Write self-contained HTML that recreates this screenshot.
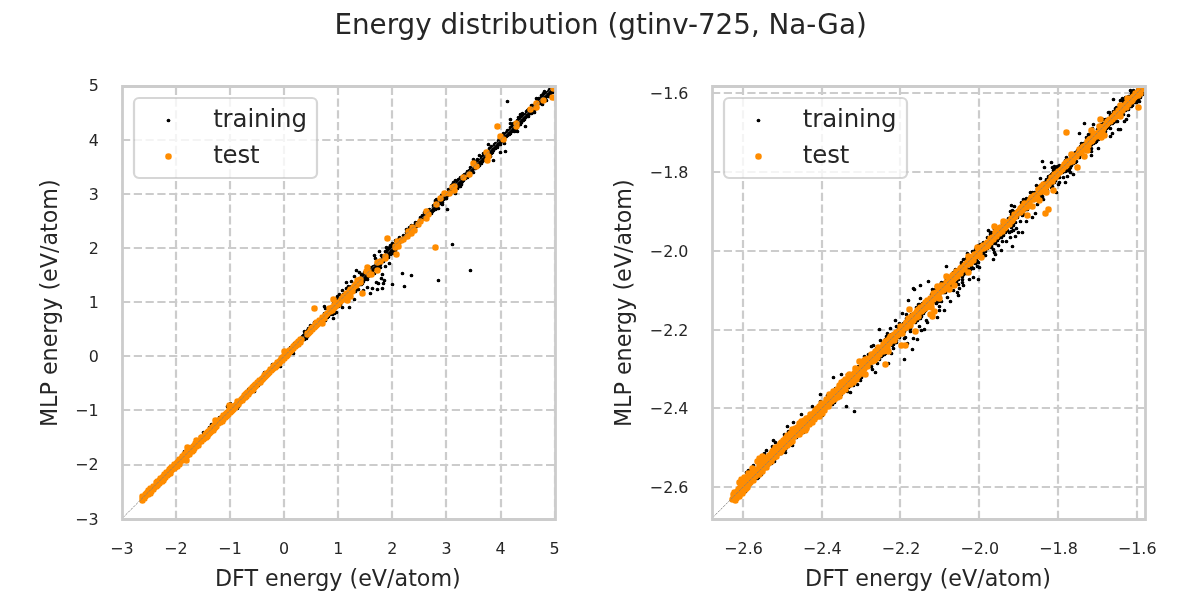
<!DOCTYPE html>
<html lang="en">
<head>
<meta charset="utf-8">
<title>Energy distribution (gtinv-725, Na-Ga)</title>
<style>
html,body{margin:0;padding:0;background:#fff;overflow:hidden}
svg{display:block}
text{font-family:"DejaVu Sans","Liberation Sans",sans-serif;fill:#262626}
</style>
</head>
<body>
<svg width="1200" height="600" viewBox="0 0 1200 600" role="img" aria-label="Energy distribution scatter plots">
<rect width="1200" height="600" fill="#fff"/>
<defs>
<clipPath id="c0"><rect x="121.802" y="85.6" width="433.07" height="433.07"/></clipPath>
<clipPath id="c1"><rect x="711.5" y="85.6" width="433.07" height="433.07"/></clipPath>
</defs>
<g clip-path="url(#c0)">
<g fill="none" stroke="#ccc" stroke-width="2.222" stroke-dasharray="8.222 3.556">
<path d="M122 519V86M176 519V86M230 519V86M284 519V86M338 519V86M392 519V86M446 519V86M501 519V86M555 519V86M122 519H555M122 465H555M122 410H555M122 356H555M122 302H555M122 248H555M122 194H555M122 140H555M122 86H555"/>
</g>
<path d="M196.5 446.5h0M176.5 465.5h0M195.5 445.5h0M227.5 413.5h0M159.5 481.5h0M172.5 469.5h0M192.5 449.5h0M189.5 451.5h0M207.5 434.5h0M180.5 460.5h0M147.5 493.5h0M157.5 483.5h0M209.5 432.5h0M202.5 439.5h0M204.5 437.5h0M151.5 489.5h0M146.5 494.5h0M224.5 416.5h0M179.5 460.5h0M145.5 496.5h0M161.5 479.5h0M185.5 456.5h0M170.5 470.5h0M151.5 490.5h0M215.5 427.5h0M153.5 487.5h0M160.5 481.5h0M220.5 419.5h0M207.5 433.5h0M210.5 430.5h0M149.5 491.5h0M154.5 487.5h0M156.5 483.5h0M169.5 471.5h0M156.5 486.5h0M173.5 467.5h0M152.5 489.5h0M156.5 485.5h0M162.5 478.5h0M183.5 458.5h0M203.5 437.5h0M203.5 436.5h0M217.5 423.5h0M178.5 463.5h0M221.5 419.5h0M148.5 492.5h0M213.5 428.5h0M210.5 431.5h0M205.5 436.5h0M209.5 430.5h0M215.5 426.5h0M198.5 442.5h0M181.5 459.5h0M213.5 427.5h0M181.5 458.5h0M173.5 468.5h0M177.5 463.5h0M190.5 450.5h0M229.5 412.5h0M146.5 493.5h0M161.5 480.5h0M188.5 452.5h0M162.5 479.5h0M167.5 473.5h0M206.5 435.5h0M179.5 461.5h0M144.5 496.5h0M171.5 470.5h0M184.5 457.5h0M228.5 412.5h0M165.5 475.5h0M186.5 454.5h0M175.5 466.5h0M185.5 455.5h0M174.5 465.5h0M150.5 490.5h0M144.5 497.5h0M145.5 495.5h0M194.5 446.5h0M227.5 414.5h0M217.5 424.5h0M218.5 422.5h0M191.5 450.5h0M214.5 426.5h0M223.5 416.5h0M191.5 448.5h0M169.5 470.5h0M176.5 464.5h0M143.5 497.5h0M194.5 447.5h0M230.5 410.5h0M208.5 432.5h0M147.5 494.5h0M212.5 429.5h0M164.5 476.5h0M149.5 492.5h0M181.5 460.5h0M166.5 475.5h0M150.5 491.5h0M183.5 457.5h0M182.5 459.5h0M177.5 464.5h0M187.5 453.5h0M215.5 425.5h0M166.5 474.5h0M219.5 422.5h0M147.5 492.5h0M208.5 433.5h0M187.5 454.5h0M206.5 434.5h0M167.5 475.5h0M209.5 431.5h0M212.5 428.5h0M170.5 471.5h0M221.5 418.5h0M192.5 448.5h0M163.5 478.5h0M226.5 414.5h0M157.5 482.5h0M174.5 467.5h0M224.5 417.5h0M196.5 444.5h0M197.5 444.5h0M214.5 427.5h0M199.5 441.5h0M168.5 473.5h0M161.5 478.5h0M216.5 424.5h0M205.5 435.5h0M215.5 424.5h0M254.5 387.5h0M291.5 350.5h0M248.5 394.5h0M274.5 365.5h0M278.5 362.5h0M282.5 358.5h0M234.5 407.5h0M239.5 401.5h0M258.5 381.5h0M252.5 389.5h0M299.5 341.5h0M259.5 380.5h0M285.5 355.5h0M273.5 366.5h0M275.5 364.5h0M238.5 401.5h0M253.5 390.5h0M248.5 389.5h0M283.5 358.5h0M235.5 406.5h0M279.5 361.5h0M263.5 380.5h0M249.5 393.5h0M266.5 375.5h0M283.5 357.5h0M280.5 363.5h0M297.5 343.5h0M278.5 360.5h0M296.5 343.5h0M231.5 410.5h0M256.5 383.5h0M249.5 389.5h0M247.5 394.5h0M251.5 390.5h0M260.5 381.5h0M262.5 378.5h0M272.5 369.5h0M258.5 383.5h0M236.5 403.5h0M253.5 387.5h0M277.5 363.5h0M267.5 374.5h0M281.5 357.5h0M300.5 343.5h0M260.5 382.5h0M238.5 404.5h0M257.5 384.5h0M270.5 371.5h0M257.5 383.5h0M239.5 400.5h0M231.5 412.5h0M248.5 391.5h0M294.5 343.5h0M233.5 407.5h0M246.5 394.5h0M243.5 396.5h0M234.5 405.5h0M249.5 392.5h0M256.5 384.5h0M237.5 404.5h0M267.5 373.5h0M295.5 343.5h0M266.5 374.5h0M291.5 349.5h0M233.5 406.5h0M288.5 354.5h0M251.5 391.5h0M244.5 399.5h0M258.5 385.5h0M274.5 366.5h0M234.5 406.5h0M268.5 372.5h0M279.5 362.5h0M267.5 375.5h0M264.5 375.5h0M243.5 399.5h0M236.5 404.5h0M288.5 353.5h0M276.5 364.5h0M235.5 405.5h0M273.5 367.5h0M249.5 391.5h0M261.5 380.5h0M258.5 380.5h0M246.5 395.5h0M284.5 356.5h0M241.5 401.5h0M240.5 399.5h0M252.5 388.5h0M297.5 344.5h0M292.5 348.5h0M251.5 388.5h0M261.5 377.5h0M252.5 390.5h0M245.5 396.5h0M244.5 396.5h0M264.5 378.5h0M248.5 393.5h0M265.5 376.5h0M268.5 373.5h0M263.5 378.5h0M240.5 400.5h0M296.5 344.5h0M259.5 382.5h0M254.5 385.5h0M247.5 393.5h0M238.5 406.5h0M269.5 372.5h0M288.5 352.5h0M293.5 347.5h0M289.5 352.5h0M270.5 369.5h0M275.5 365.5h0M296.5 346.5h0M234.5 408.5h0M264.5 376.5h0M275.5 366.5h0M245.5 394.5h0M246.5 393.5h0M242.5 400.5h0M278.5 364.5h0M255.5 384.5h0M271.5 369.5h0M298.5 342.5h0M255.5 386.5h0M295.5 347.5h0M250.5 393.5h0M280.5 360.5h0M243.5 398.5h0M272.5 367.5h0M293.5 346.5h0M231.5 409.5h0M255.5 387.5h0M262.5 377.5h0M256.5 382.5h0M290.5 351.5h0M288.5 351.5h0M278.5 361.5h0M271.5 368.5h0M266.5 373.5h0M244.5 395.5h0M239.5 404.5h0M243.5 397.5h0M260.5 383.5h0M241.5 399.5h0M294.5 346.5h0M289.5 351.5h0M272.5 368.5h0M273.5 369.5h0M279.5 363.5h0M299.5 342.5h0M234.5 409.5h0M276.5 366.5h0M251.5 389.5h0M274.5 367.5h0M258.5 384.5h0M360.5 283.5h0M395.5 250.5h0M370.5 271.5h0M305.5 335.5h0M314.5 325.5h0M353.5 286.5h0M392.5 247.5h0M316.5 323.5h0M341.5 300.5h0M398.5 244.5h0M318.5 321.5h0M382.5 257.5h0M327.5 315.5h0M301.5 341.5h0M389.5 251.5h0M342.5 297.5h0M394.5 244.5h0M327.5 317.5h0M382.5 259.5h0M362.5 279.5h0M367.5 274.5h0M391.5 250.5h0M368.5 276.5h0M314.5 324.5h0M329.5 312.5h0M337.5 299.5h0M387.5 251.5h0M375.5 265.5h0M309.5 333.5h0M324.5 320.5h0M331.5 308.5h0M372.5 267.5h0M300.5 338.5h0M371.5 272.5h0M356.5 284.5h0M343.5 296.5h0M377.5 265.5h0M350.5 291.5h0M302.5 338.5h0M330.5 310.5h0M360.5 278.5h0M391.5 249.5h0M392.5 243.5h0M381.5 255.5h0M362.5 278.5h0M355.5 287.5h0M362.5 277.5h0M359.5 280.5h0M339.5 302.5h0M322.5 316.5h0M361.5 277.5h0M351.5 289.5h0M396.5 243.5h0M344.5 294.5h0M349.5 294.5h0M392.5 248.5h0M347.5 292.5h0M366.5 274.5h0M357.5 282.5h0M389.5 247.5h0M336.5 303.5h0M395.5 248.5h0M318.5 322.5h0M363.5 280.5h0M387.5 252.5h0M369.5 272.5h0M399.5 243.5h0M393.5 245.5h0M367.5 272.5h0M338.5 306.5h0M373.5 269.5h0M364.5 276.5h0M355.5 283.5h0M324.5 317.5h0M314.5 326.5h0M306.5 334.5h0M400.5 240.5h0M345.5 295.5h0M390.5 249.5h0M373.5 268.5h0M312.5 327.5h0M340.5 304.5h0M324.5 315.5h0M355.5 288.5h0M308.5 331.5h0M344.5 295.5h0M322.5 319.5h0M362.5 276.5h0M321.5 323.5h0M303.5 338.5h0M370.5 272.5h0M346.5 293.5h0M378.5 261.5h0M356.5 287.5h0M348.5 292.5h0M359.5 283.5h0M382.5 258.5h0M361.5 281.5h0M335.5 308.5h0M376.5 263.5h0M345.5 298.5h0M311.5 330.5h0M375.5 269.5h0M332.5 313.5h0M357.5 285.5h0M369.5 269.5h0M394.5 248.5h0M333.5 308.5h0M339.5 300.5h0M305.5 337.5h0M301.5 339.5h0M308.5 332.5h0M379.5 260.5h0M304.5 334.5h0M318.5 324.5h0M392.5 246.5h0M327.5 314.5h0M347.5 294.5h0M379.5 261.5h0M381.5 260.5h0M345.5 296.5h0M365.5 276.5h0M325.5 315.5h0M319.5 322.5h0M331.5 311.5h0M351.5 286.5h0M312.5 329.5h0M332.5 311.5h0M313.5 329.5h0M361.5 279.5h0M362.5 283.5h0M304.5 331.5h0M377.5 263.5h0M325.5 317.5h0M307.5 330.5h0M323.5 317.5h0M375.5 267.5h0M363.5 278.5h0M370.5 270.5h0M352.5 288.5h0M310.5 331.5h0M359.5 284.5h0M380.5 261.5h0M385.5 258.5h0M386.5 257.5h0M378.5 262.5h0M387.5 256.5h0M334.5 304.5h0M388.5 254.5h0M307.5 336.5h0M342.5 299.5h0M367.5 273.5h0M324.5 316.5h0M337.5 304.5h0M361.5 284.5h0M397.5 244.5h0M342.5 298.5h0M300.5 342.5h0M317.5 323.5h0M371.5 269.5h0M363.5 281.5h0M304.5 339.5h0M384.5 256.5h0M314.5 322.5h0M369.5 270.5h0M361.5 280.5h0M324.5 313.5h0M328.5 314.5h0M379.5 262.5h0M368.5 274.5h0M348.5 293.5h0M385.5 251.5h0M346.5 294.5h0M392.5 251.5h0M357.5 283.5h0M309.5 331.5h0M375.5 266.5h0M319.5 323.5h0M357.5 284.5h0M395.5 245.5h0M321.5 321.5h0M393.5 246.5h0M333.5 303.5h0M352.5 290.5h0M390.5 246.5h0M394.5 246.5h0M373.5 266.5h0M323.5 316.5h0M364.5 277.5h0M302.5 337.5h0M387.5 250.5h0M351.5 288.5h0M329.5 314.5h0M349.5 290.5h0M343.5 294.5h0M380.5 264.5h0M371.5 267.5h0M399.5 237.5h0M363.5 276.5h0M363.5 275.5h0M365.5 275.5h0M312.5 330.5h0M329.5 313.5h0M344.5 300.5h0M382.5 261.5h0M390.5 253.5h0M340.5 299.5h0M371.5 273.5h0M388.5 257.5h0M352.5 291.5h0M342.5 296.5h0M343.5 298.5h0M354.5 288.5h0M325.5 316.5h0M365.5 272.5h0M310.5 328.5h0M322.5 317.5h0M339.5 301.5h0M325.5 314.5h0M345.5 294.5h0M355.5 284.5h0M393.5 247.5h0M386.5 254.5h0M328.5 316.5h0M358.5 281.5h0M306.5 333.5h0M364.5 279.5h0M392.5 253.5h0M378.5 268.5h0M379.5 263.5h0M341.5 298.5h0M356.5 282.5h0M332.5 308.5h0M387.5 253.5h0M320.5 321.5h0M360.5 281.5h0M329.5 309.5h0M395.5 244.5h0M306.5 335.5h0M377.5 261.5h0M390.5 254.5h0M335.5 305.5h0M341.5 299.5h0M324.5 319.5h0M333.5 307.5h0M388.5 253.5h0M308.5 328.5h0M372.5 270.5h0M357.5 281.5h0M351.5 291.5h0M364.5 272.5h0M473.5 172.5h0M475.5 164.5h0M468.5 173.5h0M462.5 179.5h0M443.5 198.5h0M411.5 225.5h0M461.5 178.5h0M465.5 178.5h0M439.5 200.5h0M446.5 197.5h0M469.5 172.5h0M424.5 212.5h0M461.5 182.5h0M433.5 210.5h0M467.5 171.5h0M435.5 203.5h0M461.5 180.5h0M409.5 231.5h0M419.5 221.5h0M456.5 187.5h0M435.5 206.5h0M442.5 199.5h0M459.5 183.5h0M441.5 200.5h0M457.5 184.5h0M416.5 223.5h0M426.5 212.5h0M475.5 166.5h0M455.5 184.5h0M457.5 186.5h0M458.5 179.5h0M443.5 199.5h0M417.5 224.5h0M434.5 206.5h0M426.5 216.5h0M436.5 203.5h0M462.5 180.5h0M459.5 185.5h0M451.5 189.5h0M444.5 195.5h0M436.5 206.5h0M447.5 195.5h0M400.5 239.5h0M415.5 226.5h0M472.5 169.5h0M464.5 174.5h0M424.5 215.5h0M459.5 182.5h0M413.5 227.5h0M435.5 201.5h0M446.5 198.5h0M445.5 195.5h0M473.5 164.5h0M437.5 204.5h0M446.5 193.5h0M409.5 233.5h0M427.5 212.5h0M458.5 183.5h0M469.5 175.5h0M414.5 227.5h0M439.5 202.5h0M457.5 182.5h0M425.5 213.5h0M436.5 205.5h0M462.5 181.5h0M432.5 211.5h0M433.5 207.5h0M408.5 233.5h0M410.5 229.5h0M463.5 180.5h0M408.5 235.5h0M403.5 240.5h0M407.5 232.5h0M409.5 232.5h0M428.5 214.5h0M458.5 185.5h0M409.5 227.5h0M449.5 192.5h0M413.5 228.5h0M416.5 225.5h0M438.5 201.5h0M441.5 198.5h0M471.5 170.5h0M452.5 184.5h0M413.5 226.5h0M459.5 180.5h0M407.5 231.5h0M402.5 240.5h0M406.5 235.5h0M470.5 170.5h0M467.5 172.5h0M470.5 173.5h0M425.5 211.5h0M426.5 215.5h0M444.5 196.5h0M454.5 184.5h0M405.5 236.5h0M411.5 229.5h0M437.5 200.5h0M446.5 196.5h0M403.5 235.5h0M417.5 222.5h0M465.5 176.5h0M400.5 241.5h0M427.5 216.5h0M461.5 183.5h0M466.5 173.5h0M449.5 189.5h0M415.5 227.5h0M440.5 203.5h0M467.5 177.5h0M472.5 168.5h0M416.5 226.5h0M449.5 191.5h0M446.5 194.5h0M417.5 223.5h0M452.5 188.5h0M407.5 236.5h0M420.5 221.5h0M460.5 183.5h0M456.5 184.5h0M417.5 225.5h0M409.5 230.5h0M474.5 165.5h0M429.5 212.5h0M422.5 219.5h0M450.5 191.5h0M412.5 227.5h0M413.5 225.5h0M445.5 196.5h0M401.5 239.5h0M445.5 192.5h0M441.5 195.5h0M454.5 185.5h0M425.5 217.5h0M450.5 190.5h0M431.5 210.5h0M425.5 216.5h0M450.5 192.5h0M431.5 211.5h0M468.5 171.5h0M430.5 213.5h0M460.5 180.5h0M427.5 215.5h0M429.5 209.5h0M444.5 198.5h0M404.5 236.5h0M423.5 218.5h0M416.5 224.5h0M460.5 182.5h0M410.5 232.5h0M420.5 218.5h0M404.5 238.5h0M454.5 186.5h0M406.5 229.5h0M437.5 205.5h0M467.5 174.5h0M450.5 193.5h0M406.5 232.5h0M462.5 178.5h0M411.5 228.5h0M421.5 220.5h0M442.5 197.5h0M452.5 189.5h0M405.5 235.5h0M455.5 186.5h0M454.5 190.5h0M436.5 204.5h0M419.5 223.5h0M427.5 210.5h0M408.5 232.5h0M464.5 176.5h0M460.5 181.5h0M411.5 233.5h0M423.5 216.5h0M474.5 164.5h0M435.5 209.5h0M451.5 185.5h0M463.5 175.5h0M412.5 228.5h0M457.5 188.5h0M437.5 206.5h0M460.5 186.5h0M538.5 99.5h0M532.5 107.5h0M521.5 116.5h0M540.5 101.5h0M497.5 144.5h0M536.5 104.5h0M529.5 112.5h0M478.5 162.5h0M528.5 113.5h0M497.5 145.5h0M476.5 165.5h0M543.5 96.5h0M543.5 94.5h0M497.5 146.5h0M553.5 91.5h0M489.5 151.5h0M483.5 157.5h0M485.5 158.5h0M542.5 101.5h0M495.5 143.5h0M530.5 111.5h0M499.5 142.5h0M529.5 111.5h0M556.5 83.5h0M516.5 124.5h0M528.5 114.5h0M529.5 113.5h0M552.5 91.5h0M533.5 105.5h0M548.5 91.5h0M493.5 150.5h0M523.5 120.5h0M537.5 99.5h0M519.5 117.5h0M503.5 136.5h0M492.5 148.5h0M497.5 143.5h0M512.5 130.5h0M499.5 140.5h0M528.5 109.5h0M509.5 134.5h0M512.5 125.5h0M523.5 117.5h0M551.5 91.5h0M486.5 155.5h0M482.5 161.5h0M495.5 148.5h0M526.5 116.5h0M521.5 120.5h0M542.5 104.5h0M523.5 118.5h0M519.5 122.5h0M481.5 163.5h0M547.5 92.5h0M538.5 103.5h0M490.5 156.5h0M483.5 159.5h0M521.5 117.5h0M492.5 152.5h0M544.5 95.5h0M555.5 88.5h0M497.5 147.5h0M551.5 89.5h0M491.5 153.5h0M496.5 144.5h0M494.5 148.5h0M531.5 109.5h0M489.5 155.5h0M492.5 149.5h0M493.5 146.5h0M546.5 96.5h0M502.5 139.5h0M522.5 116.5h0M550.5 89.5h0M545.5 95.5h0M502.5 138.5h0M523.5 114.5h0M515.5 128.5h0M513.5 127.5h0M535.5 105.5h0M512.5 128.5h0M521.5 119.5h0M490.5 152.5h0M510.5 130.5h0M491.5 148.5h0M498.5 140.5h0M549.5 91.5h0M477.5 164.5h0M507.5 135.5h0M518.5 123.5h0M520.5 121.5h0M544.5 97.5h0M537.5 107.5h0M483.5 155.5h0M475.5 168.5h0M553.5 90.5h0M502.5 137.5h0M518.5 125.5h0M534.5 112.5h0M530.5 109.5h0M549.5 89.5h0M511.5 130.5h0M538.5 101.5h0M483.5 160.5h0M480.5 163.5h0M540.5 98.5h0M513.5 126.5h0M546.5 100.5h0M525.5 115.5h0M556.5 84.5h0M505.5 135.5h0M554.5 85.5h0M481.5 158.5h0M527.5 110.5h0M482.5 157.5h0M517.5 125.5h0M506.5 132.5h0M491.5 151.5h0M508.5 132.5h0M492.5 151.5h0M532.5 111.5h0M554.5 86.5h0M509.5 133.5h0M540.5 99.5h0M527.5 115.5h0M519.5 121.5h0M555.5 85.5h0M510.5 133.5h0M556.5 86.5h0M535.5 107.5h0M533.5 109.5h0M488.5 154.5h0M489.5 156.5h0M524.5 116.5h0M498.5 141.5h0M516.5 125.5h0M550.5 87.5h0M554.5 90.5h0M504.5 136.5h0M477.5 159.5h0M503.5 133.5h0M501.5 141.5h0M539.5 98.5h0M507.5 130.5h0M476.5 163.5h0M524.5 115.5h0M489.5 148.5h0M500.5 144.5h0M537.5 104.5h0M550.5 91.5h0M509.5 132.5h0M547.5 96.5h0M552.5 87.5h0M544.5 91.5h0M490.5 148.5h0M484.5 157.5h0M506.5 136.5h0M519.5 118.5h0M530.5 110.5h0M543.5 93.5h0M550.5 90.5h0M555.5 86.5h0M486.5 156.5h0M491.5 149.5h0M548.5 92.5h0M517.5 120.5h0M543.5 95.5h0M556.5 85.5h0M534.5 108.5h0M519.5 120.5h0M521.5 121.5h0M479.5 160.5h0M542.5 97.5h0M525.5 116.5h0M521.5 122.5h0M553.5 87.5h0M547.5 94.5h0M524.5 117.5h0M477.5 163.5h0M514.5 125.5h0M534.5 110.5h0M507.5 132.5h0M508.5 131.5h0M515.5 123.5h0M532.5 105.5h0M548.5 95.5h0M532.5 112.5h0M485.5 157.5h0M520.5 120.5h0M486.5 153.5h0M540.5 103.5h0M526.5 115.5h0M489.5 152.5h0M511.5 131.5h0M505.5 136.5h0M547.5 93.5h0M541.5 97.5h0M514.5 129.5h0M525.5 117.5h0M526.5 113.5h0M494.5 147.5h0M526.5 111.5h0M512.5 129.5h0M545.5 93.5h0M531.5 113.5h0M514.5 124.5h0M552.5 90.5h0M504.5 137.5h0M549.5 92.5h0M549.5 93.5h0M488.5 152.5h0M489.5 149.5h0M535.5 106.5h0M500.5 140.5h0M499.5 141.5h0M539.5 101.5h0M513.5 129.5h0M537.5 100.5h0M552.5 88.5h0M542.5 98.5h0M513.5 123.5h0M520.5 123.5h0M518.5 124.5h0M524.5 119.5h0M488.5 153.5h0M518.5 122.5h0M543.5 97.5h0M498.5 143.5h0M478.5 165.5h0M495.5 144.5h0M516.5 128.5h0M504.5 138.5h0M499.5 143.5h0M545.5 96.5h0M534.5 107.5h0M476.5 161.5h0M507.5 133.5h0M520.5 124.5h0M498.5 142.5h0M480.5 162.5h0M535.5 104.5h0M544.5 100.5h0M555.5 82.5h0M543.5 98.5h0M538.5 98.5h0M543.5 99.5h0M529.5 110.5h0M502.5 136.5h0M484.5 158.5h0M546.5 95.5h0M510.5 132.5h0M507.5 134.5h0M534.5 105.5h0M553.5 89.5h0M555.5 87.5h0M541.5 95.5h0M539.5 103.5h0M493.5 148.5h0M516.5 123.5h0M515.5 127.5h0M536.5 105.5h0M503.5 141.5h0M514.5 128.5h0M514.5 127.5h0M552.5 92.5h0M496.5 147.5h0M477.5 165.5h0M483.5 153.5h0M550.5 95.5h0M479.5 162.5h0M531.5 105.5h0M489.5 154.5h0M499.5 138.5h0M519.5 119.5h0M554.5 83.5h0M503.5 139.5h0M488.5 157.5h0M485.5 159.5h0M500.5 136.5h0M557.5 89.5h0M479.5 165.5h0M510.5 127.5h0M494.5 144.5h0M304.5 337.5h0M306.5 338.5h0M303.5 335.5h0M184.5 451.5h0M180.5 463.5h0M158.5 486.5h0M230.5 403.5h0M227.5 406.5h0M219.5 417.5h0M211.5 424.5h0M209.5 427.5h0M203.5 432.5h0M200.5 436.5h0M254.5 391.5h0M237.5 408.5h0M310.5 325.5h0M302.5 336.5h0M306.5 337.5h0M293.5 353.5h0M280.5 366.5h0M264.5 372.5h0M272.5 364.5h0M349.5 307.5h0M342.5 307.5h0M325.5 308.5h0M334.5 313.5h0M336.5 312.5h0M332.5 314.5h0M333.5 318.5h0M325.5 320.5h0M295.5 342.5h0M290.5 347.5h0M379.5 251.5h0M374.5 255.5h0M375.5 258.5h0M386.5 247.5h0M387.5 249.5h0M390.5 245.5h0M396.5 241.5h0M398.5 239.5h0M390.5 251.5h0M389.5 263.5h0M385.5 266.5h0M383.5 261.5h0M380.5 267.5h0M356.5 270.5h0M359.5 272.5h0M361.5 274.5h0M354.5 276.5h0M346.5 282.5h0M351.5 281.5h0M348.5 286.5h0M346.5 288.5h0M342.5 290.5h0M339.5 294.5h0M337.5 296.5h0M324.5 306.5h0M382.5 274.5h0M381.5 278.5h0M384.5 280.5h0M383.5 283.5h0M376.5 282.5h0M378.5 283.5h0M374.5 273.5h0M367.5 279.5h0M367.5 287.5h0M372.5 288.5h0M377.5 289.5h0M382.5 288.5h0M370.5 293.5h0M358.5 289.5h0M355.5 291.5h0M363.5 290.5h0M354.5 299.5h0M402.5 273.5h0M411.5 275.5h0M392.5 284.5h0M404.5 286.5h0M438.5 280.5h0M455.5 180.5h0M453.5 182.5h0M461.5 184.5h0M460.5 177.5h0M472.5 170.5h0M469.5 170.5h0M470.5 167.5h0M478.5 166.5h0M436.5 199.5h0M435.5 200.5h0M433.5 205.5h0M434.5 207.5h0M438.5 208.5h0M442.5 204.5h0M447.5 209.5h0M442.5 202.5h0M430.5 210.5h0M431.5 213.5h0M422.5 215.5h0M420.5 217.5h0M415.5 222.5h0M411.5 226.5h0M409.5 229.5h0M395.5 240.5h0M405.5 237.5h0M448.5 189.5h0M455.5 193.5h0M507.5 101.5h0M536.5 98.5h0M525.5 126.5h0M504.5 143.5h0M500.5 152.5h0M505.5 151.5h0M493.5 160.5h0M479.5 155.5h0M482.5 156.5h0M473.5 159.5h0M510.5 119.5h0M510.5 123.5h0M508.5 130.5h0M517.5 131.5h0M514.5 131.5h0M520.5 114.5h0M522.5 113.5h0M528.5 116.5h0M518.5 117.5h0M488.5 144.5h0M491.5 146.5h0M549.5 96.5h0M545.5 97.5h0M452.5 244.5h0M470.5 270.5h0" fill="none" stroke="#000" stroke-width="3.74" stroke-linecap="round"/>
<path d="M230.5 409.5h0M206.5 433.5h0M179.5 462.5h0M216.5 424.5h0M159.5 482.5h0M166.5 475.5h0M198.5 443.5h0M212.5 428.5h0M198.5 440.5h0M223.5 417.5h0M186.5 452.5h0M189.5 452.5h0M268.5 373.5h0M220.5 419.5h0M147.5 493.5h0M248.5 394.5h0M274.5 365.5h0M247.5 394.5h0M269.5 372.5h0M235.5 405.5h0M211.5 429.5h0M160.5 478.5h0M284.5 355.5h0M238.5 401.5h0M156.5 482.5h0M281.5 360.5h0M275.5 365.5h0M269.5 371.5h0M167.5 475.5h0M246.5 394.5h0M211.5 430.5h0M144.5 498.5h0M247.5 393.5h0M250.5 390.5h0M145.5 496.5h0M222.5 421.5h0M264.5 375.5h0M245.5 396.5h0M148.5 490.5h0M167.5 474.5h0M169.5 473.5h0M255.5 386.5h0M277.5 363.5h0M244.5 396.5h0M254.5 385.5h0M251.5 390.5h0M209.5 432.5h0M293.5 347.5h0M192.5 451.5h0M190.5 451.5h0M165.5 475.5h0M243.5 397.5h0M264.5 376.5h0M207.5 434.5h0M208.5 431.5h0M173.5 466.5h0M174.5 464.5h0M260.5 380.5h0M287.5 352.5h0M235.5 407.5h0M294.5 346.5h0M261.5 379.5h0M283.5 357.5h0M214.5 428.5h0M276.5 366.5h0M285.5 355.5h0M240.5 401.5h0M213.5 428.5h0M266.5 374.5h0M142.5 500.5h0M148.5 492.5h0M238.5 402.5h0M176.5 466.5h0M206.5 435.5h0M163.5 476.5h0M208.5 433.5h0M170.5 470.5h0M212.5 429.5h0M272.5 369.5h0M176.5 465.5h0M168.5 471.5h0M177.5 463.5h0M173.5 467.5h0M232.5 409.5h0M171.5 470.5h0M194.5 446.5h0M151.5 491.5h0M156.5 485.5h0M284.5 356.5h0M231.5 411.5h0M260.5 381.5h0M227.5 414.5h0M284.5 358.5h0M143.5 497.5h0M192.5 448.5h0M177.5 465.5h0M192.5 447.5h0M179.5 464.5h0M159.5 481.5h0M291.5 349.5h0M188.5 453.5h0M168.5 474.5h0M253.5 389.5h0M187.5 453.5h0M170.5 473.5h0M170.5 471.5h0M154.5 487.5h0M179.5 463.5h0M276.5 364.5h0M142.5 499.5h0M236.5 404.5h0M271.5 370.5h0M174.5 467.5h0M228.5 412.5h0M169.5 471.5h0M172.5 467.5h0M187.5 455.5h0M168.5 473.5h0M149.5 492.5h0M213.5 427.5h0M160.5 481.5h0M296.5 344.5h0M189.5 451.5h0M250.5 391.5h0M201.5 439.5h0M215.5 425.5h0M224.5 416.5h0M223.5 416.5h0M186.5 455.5h0M214.5 425.5h0M184.5 456.5h0M161.5 479.5h0M171.5 468.5h0M150.5 492.5h0M190.5 449.5h0M222.5 419.5h0M272.5 368.5h0M238.5 404.5h0M183.5 458.5h0M217.5 422.5h0M293.5 348.5h0M229.5 409.5h0M229.5 411.5h0M298.5 342.5h0M223.5 418.5h0M212.5 430.5h0M165.5 474.5h0M286.5 355.5h0M170.5 472.5h0M224.5 415.5h0M230.5 412.5h0M181.5 459.5h0M184.5 457.5h0M156.5 484.5h0M289.5 350.5h0M167.5 472.5h0M249.5 392.5h0M295.5 345.5h0M213.5 430.5h0M214.5 426.5h0M278.5 362.5h0M280.5 360.5h0M220.5 420.5h0M198.5 444.5h0M226.5 413.5h0M153.5 486.5h0M179.5 460.5h0M150.5 490.5h0M266.5 373.5h0M295.5 346.5h0M262.5 379.5h0M210.5 430.5h0M256.5 385.5h0M201.5 438.5h0M175.5 465.5h0M276.5 365.5h0M298.5 344.5h0M150.5 488.5h0M222.5 417.5h0M162.5 477.5h0M219.5 421.5h0M206.5 437.5h0M210.5 429.5h0M230.5 411.5h0M283.5 358.5h0M160.5 479.5h0M275.5 367.5h0M229.5 412.5h0M194.5 447.5h0M284.5 357.5h0M193.5 449.5h0M246.5 396.5h0M164.5 476.5h0M274.5 367.5h0M254.5 386.5h0M169.5 469.5h0M215.5 423.5h0M223.5 415.5h0M288.5 352.5h0M259.5 382.5h0M273.5 367.5h0M282.5 360.5h0M242.5 398.5h0M225.5 414.5h0M271.5 369.5h0M253.5 388.5h0M233.5 408.5h0M164.5 478.5h0M155.5 486.5h0M168.5 472.5h0M208.5 432.5h0M300.5 340.5h0M220.5 421.5h0M177.5 464.5h0M206.5 434.5h0M246.5 393.5h0M175.5 464.5h0M266.5 375.5h0M282.5 358.5h0M150.5 493.5h0M292.5 349.5h0M162.5 481.5h0M207.5 433.5h0M268.5 372.5h0M270.5 369.5h0M184.5 454.5h0M241.5 400.5h0M157.5 483.5h0M290.5 351.5h0M146.5 494.5h0M290.5 350.5h0M169.5 472.5h0M289.5 351.5h0M145.5 495.5h0M224.5 417.5h0M278.5 363.5h0M178.5 461.5h0M188.5 454.5h0M215.5 424.5h0M252.5 387.5h0M241.5 399.5h0M182.5 456.5h0M149.5 491.5h0M287.5 355.5h0M221.5 420.5h0M257.5 382.5h0M220.5 422.5h0M267.5 373.5h0M174.5 466.5h0M157.5 485.5h0M176.5 463.5h0M143.5 498.5h0M196.5 445.5h0M217.5 421.5h0M232.5 410.5h0M257.5 383.5h0M246.5 395.5h0M197.5 444.5h0M162.5 478.5h0M233.5 406.5h0M227.5 415.5h0M182.5 458.5h0M145.5 494.5h0M166.5 473.5h0M196.5 444.5h0M193.5 446.5h0M232.5 407.5h0M189.5 450.5h0M165.5 477.5h0M159.5 483.5h0M265.5 376.5h0M153.5 489.5h0M243.5 398.5h0M277.5 362.5h0M156.5 486.5h0M263.5 377.5h0M207.5 436.5h0M226.5 414.5h0M279.5 362.5h0M179.5 459.5h0M196.5 446.5h0M149.5 490.5h0M216.5 425.5h0M244.5 395.5h0M238.5 403.5h0M279.5 361.5h0M158.5 481.5h0M298.5 343.5h0M263.5 378.5h0M216.5 426.5h0M281.5 359.5h0M180.5 460.5h0M185.5 455.5h0M255.5 384.5h0M213.5 426.5h0M288.5 353.5h0M253.5 386.5h0M180.5 459.5h0M255.5 385.5h0M225.5 416.5h0M216.5 422.5h0M153.5 487.5h0M296.5 345.5h0M213.5 429.5h0M228.5 414.5h0M227.5 413.5h0M163.5 478.5h0M152.5 489.5h0M178.5 462.5h0M287.5 354.5h0M262.5 378.5h0M204.5 438.5h0M143.5 496.5h0M297.5 344.5h0M166.5 474.5h0M197.5 445.5h0M191.5 448.5h0M297.5 343.5h0M171.5 467.5h0M157.5 482.5h0M200.5 440.5h0M193.5 448.5h0M205.5 436.5h0M208.5 434.5h0M237.5 403.5h0M191.5 451.5h0M259.5 381.5h0M221.5 419.5h0M201.5 437.5h0M282.5 359.5h0M183.5 457.5h0M154.5 486.5h0M217.5 423.5h0M167.5 473.5h0M153.5 488.5h0M176.5 464.5h0M294.5 345.5h0M273.5 366.5h0M274.5 366.5h0M148.5 493.5h0M298.5 341.5h0M237.5 401.5h0M202.5 437.5h0M261.5 380.5h0M203.5 439.5h0M265.5 374.5h0M205.5 434.5h0M226.5 416.5h0M286.5 354.5h0M299.5 342.5h0M233.5 407.5h0M296.5 343.5h0M144.5 497.5h0M148.5 494.5h0M204.5 436.5h0M189.5 449.5h0M225.5 415.5h0M264.5 377.5h0M267.5 374.5h0M273.5 368.5h0M201.5 441.5h0M142.5 497.5h0M199.5 440.5h0M166.5 472.5h0M178.5 463.5h0M177.5 466.5h0M250.5 389.5h0M193.5 450.5h0M291.5 350.5h0M251.5 389.5h0M188.5 451.5h0M192.5 449.5h0M163.5 480.5h0M172.5 469.5h0M253.5 387.5h0M209.5 433.5h0M174.5 465.5h0M231.5 409.5h0M289.5 352.5h0M170.5 468.5h0M215.5 427.5h0M242.5 400.5h0M232.5 408.5h0M142.5 496.5h0M194.5 445.5h0M237.5 402.5h0M158.5 482.5h0M210.5 432.5h0M146.5 493.5h0M159.5 480.5h0M218.5 422.5h0M282.5 357.5h0M161.5 478.5h0M147.5 494.5h0M247.5 392.5h0M270.5 370.5h0M170.5 469.5h0M286.5 356.5h0M281.5 358.5h0M187.5 454.5h0M195.5 443.5h0M144.5 496.5h0M186.5 456.5h0M227.5 412.5h0M147.5 492.5h0M245.5 394.5h0M157.5 481.5h0M233.5 409.5h0M198.5 442.5h0M182.5 460.5h0M182.5 459.5h0M223.5 419.5h0M189.5 454.5h0M252.5 390.5h0M280.5 361.5h0M252.5 388.5h0M175.5 467.5h0M181.5 460.5h0M152.5 488.5h0M202.5 439.5h0M183.5 456.5h0M207.5 435.5h0M190.5 450.5h0M259.5 380.5h0M202.5 438.5h0M142.5 498.5h0M279.5 363.5h0M260.5 382.5h0M212.5 427.5h0M199.5 441.5h0M225.5 417.5h0M226.5 415.5h0M222.5 420.5h0M242.5 399.5h0M218.5 423.5h0M195.5 446.5h0M177.5 462.5h0M287.5 353.5h0M164.5 474.5h0M187.5 451.5h0M161.5 480.5h0M293.5 346.5h0M203.5 438.5h0M254.5 387.5h0M179.5 461.5h0M245.5 397.5h0M258.5 382.5h0M194.5 448.5h0M292.5 348.5h0M299.5 341.5h0M197.5 443.5h0M300.5 342.5h0M174.5 468.5h0M211.5 431.5h0M196.5 442.5h0M207.5 432.5h0M181.5 458.5h0M196.5 443.5h0M231.5 410.5h0M275.5 366.5h0M349.5 291.5h0M345.5 296.5h0M353.5 287.5h0M356.5 285.5h0M312.5 327.5h0M327.5 313.5h0M338.5 304.5h0M323.5 318.5h0M322.5 318.5h0M312.5 329.5h0M307.5 334.5h0M316.5 325.5h0M321.5 320.5h0M332.5 307.5h0M331.5 310.5h0M309.5 332.5h0M333.5 308.5h0M319.5 320.5h0M340.5 301.5h0M346.5 294.5h0M337.5 303.5h0M332.5 310.5h0M338.5 302.5h0M354.5 286.5h0M311.5 328.5h0M330.5 311.5h0M314.5 327.5h0M316.5 324.5h0M352.5 289.5h0M333.5 307.5h0M350.5 289.5h0M317.5 324.5h0M308.5 333.5h0M344.5 296.5h0M352.5 290.5h0M332.5 308.5h0M301.5 339.5h0M334.5 307.5h0M330.5 310.5h0M341.5 299.5h0M338.5 303.5h0M347.5 294.5h0M335.5 306.5h0M349.5 292.5h0M348.5 294.5h0M341.5 300.5h0M355.5 284.5h0M318.5 322.5h0M310.5 331.5h0M329.5 311.5h0M335.5 305.5h0M326.5 314.5h0M343.5 296.5h0M307.5 333.5h0M346.5 296.5h0M315.5 326.5h0M350.5 290.5h0M313.5 327.5h0M319.5 322.5h0M325.5 315.5h0M317.5 323.5h0M320.5 322.5h0M316.5 322.5h0M317.5 322.5h0M322.5 317.5h0M336.5 305.5h0M324.5 317.5h0M342.5 299.5h0M346.5 293.5h0M349.5 293.5h0M331.5 309.5h0M346.5 295.5h0M315.5 324.5h0M334.5 305.5h0M310.5 330.5h0M324.5 318.5h0M187.5 447.5h0M186.5 460.5h0M198.5 445.5h0M229.5 405.5h0M215.5 420.5h0M196.5 440.5h0M314.5 308.5h0M284.5 351.5h0M322.5 323.5h0M300.5 339.5h0M387.5 238.5h0M435.5 247.5h0M396.5 254.5h0M397.5 245.5h0M395.5 247.5h0M403.5 239.5h0M407.5 236.5h0M362.5 293.5h0M367.5 269.5h0M366.5 271.5h0M369.5 274.5h0M357.5 280.5h0M360.5 282.5h0M377.5 270.5h0M377.5 262.5h0M385.5 256.5h0M333.5 299.5h0M352.5 291.5h0M350.5 296.5h0M347.5 300.5h0M329.5 308.5h0M444.5 193.5h0M449.5 193.5h0M454.5 190.5h0M454.5 186.5h0M452.5 187.5h0M463.5 177.5h0M469.5 174.5h0M476.5 166.5h0M436.5 204.5h0M440.5 198.5h0M426.5 211.5h0M428.5 214.5h0M426.5 218.5h0M420.5 221.5h0M418.5 224.5h0M412.5 227.5h0M414.5 230.5h0M408.5 231.5h0M411.5 233.5h0M497.5 126.5h0M516.5 123.5h0M516.5 126.5h0M500.5 136.5h0M503.5 139.5h0M486.5 152.5h0M488.5 156.5h0M487.5 160.5h0M473.5 163.5h0M530.5 109.5h0M536.5 103.5h0M536.5 107.5h0M543.5 100.5h0M552.5 97.5h0M553.5 88.5h0M398.5 246.5h0M395.5 246.5h0M401.5 240.5h0M367.5 267.5h0M368.5 271.5h0M371.5 274.5h0M360.5 279.5h0M355.5 285.5h0M380.5 261.5h0M385.5 258.5h0M397.5 241.5h0" fill="none" stroke="#ff8c00" stroke-width="6.53" stroke-linecap="round"/>
<path d="M-256.85 897.61L825.15 -185.07" fill="none" stroke="#808080" stroke-width="0.85" stroke-dasharray="2.569 1.111"/>
</g>
<path d="M122.5 519.5V86.5M555.5 519.5V86.5M122.5 519.5H555.5M122.5 86.5H555.5" fill="none" stroke="#ccc" stroke-width="2.778" stroke-linecap="square"/>
<rect x="134" y="98" width="183" height="80" rx="4.89" ry="4.89" fill="#fff" stroke="#ccc" stroke-width="2.222" opacity="0.8"/>
<path d="M168.5 120.5h0" fill="none" stroke="#000" stroke-width="3.74" stroke-linecap="round"/>
<path d="M168.5 156.5h0" fill="none" stroke="#ff8c00" stroke-width="6.53" stroke-linecap="round"/>
<text x="213.15" y="127" font-size="24.444" textLength="93.8">training</text>
<text x="213.15" y="163" font-size="24.444" textLength="46.44">test</text>
<g font-size="16.667" text-anchor="middle">
<text transform="translate(121.85 554) scale(0.955 1)">−3</text>
<text transform="translate(175.95 554) scale(0.955 1)">−2</text>
<text transform="translate(230.05 554) scale(0.955 1)">−1</text>
<text transform="translate(284.15 554) scale(0.955 1)">0</text>
<text transform="translate(338.25 554) scale(0.955 1)">1</text>
<text transform="translate(392.35 554) scale(0.955 1)">2</text>
<text transform="translate(446.45 554) scale(0.955 1)">3</text>
<text transform="translate(500.55 554) scale(0.955 1)">4</text>
<text transform="translate(554.65 554) scale(0.955 1)">5</text>
</g>
<g font-size="16.667" text-anchor="end">
<text transform="translate(98.75 525) scale(0.955 1)">−3</text>
<text transform="translate(98.75 470) scale(0.955 1)">−2</text>
<text transform="translate(98.75 416) scale(0.955 1)">−1</text>
<text transform="translate(98.75 362) scale(0.955 1)">0</text>
<text transform="translate(98.75 308) scale(0.955 1)">1</text>
<text transform="translate(98.75 254) scale(0.955 1)">2</text>
<text transform="translate(98.75 200) scale(0.955 1)">3</text>
<text transform="translate(98.75 146) scale(0.955 1)">4</text>
<text transform="translate(98.75 91) scale(0.955 1)">5</text>
</g>
<text x="337.84" y="585.85" font-size="22.222" text-anchor="middle">DFT energy (eV/atom)</text>
<text transform="translate(57.44 303.23) rotate(-90)" font-size="22.222" text-anchor="middle">MLP energy (eV/atom)</text>
<g clip-path="url(#c1)">
<g fill="none" stroke="#ccc" stroke-width="2.222" stroke-dasharray="8.222 3.556">
<path d="M743 519V86M822 519V86M900 519V86M979 519V86M1058 519V86M1137 519V86M712 487H1145M712 408H1145M712 330H1145M712 251H1145M712 172H1145M712 93H1145"/>
</g>
<path d="M828.5 401.5h0M865.5 363.5h0M1065.5 170.5h0M1014.5 214.5h0M896.5 337.5h0M871.5 359.5h0M982.5 250.5h0M811.5 421.5h0M1013.5 225.5h0M1125.5 110.5h0M836.5 391.5h0M1128.5 99.5h0M1011.5 219.5h0M773.5 455.5h0M917.5 316.5h0M1102.5 129.5h0M1023.5 208.5h0M869.5 356.5h0M1038.5 192.5h0M825.5 406.5h0M767.5 465.5h0M800.5 431.5h0M874.5 355.5h0M927.5 300.5h0M844.5 385.5h0M1072.5 158.5h0M813.5 415.5h0M787.5 442.5h0M771.5 458.5h0M1089.5 149.5h0M983.5 244.5h0M1121.5 105.5h0M1035.5 197.5h0M1091.5 135.5h0M1120.5 110.5h0M960.5 270.5h0M1123.5 105.5h0M939.5 294.5h0M847.5 384.5h0M921.5 310.5h0M1010.5 223.5h0M871.5 361.5h0M1109.5 121.5h0M840.5 391.5h0M874.5 356.5h0M841.5 388.5h0M881.5 348.5h0M735.5 499.5h0M994.5 237.5h0M850.5 375.5h0M761.5 469.5h0M990.5 232.5h0M806.5 423.5h0M860.5 372.5h0M916.5 319.5h0M795.5 433.5h0M824.5 404.5h0M930.5 306.5h0M931.5 303.5h0M839.5 393.5h0M857.5 372.5h0M849.5 382.5h0M841.5 383.5h0M934.5 298.5h0M821.5 403.5h0M939.5 288.5h0M835.5 390.5h0M1082.5 152.5h0M808.5 423.5h0M1092.5 137.5h0M807.5 425.5h0M1045.5 185.5h0M987.5 237.5h0M820.5 408.5h0M1049.5 176.5h0M837.5 393.5h0M769.5 460.5h0M990.5 238.5h0M956.5 277.5h0M997.5 237.5h0M806.5 421.5h0M836.5 394.5h0M1018.5 212.5h0M767.5 461.5h0M1097.5 139.5h0M911.5 317.5h0M990.5 239.5h0M863.5 366.5h0M807.5 423.5h0M737.5 495.5h0M820.5 406.5h0M1095.5 140.5h0M1138.5 99.5h0M917.5 320.5h0M891.5 340.5h0M848.5 380.5h0M1135.5 92.5h0M757.5 473.5h0M903.5 327.5h0M803.5 426.5h0M833.5 395.5h0M1057.5 166.5h0M818.5 411.5h0M963.5 267.5h0M886.5 343.5h0M944.5 282.5h0M872.5 357.5h0M851.5 378.5h0M850.5 376.5h0M769.5 461.5h0M933.5 297.5h0M1100.5 130.5h0M1127.5 105.5h0M744.5 485.5h0M1115.5 115.5h0M784.5 446.5h0M1044.5 189.5h0M1106.5 127.5h0M890.5 343.5h0M877.5 348.5h0M948.5 281.5h0M737.5 493.5h0M909.5 322.5h0M1098.5 138.5h0M769.5 462.5h0M934.5 296.5h0M1059.5 167.5h0M1134.5 93.5h0M1027.5 208.5h0M847.5 378.5h0M1012.5 221.5h0M878.5 350.5h0M1053.5 177.5h0M1014.5 216.5h0M1140.5 97.5h0M1094.5 138.5h0M752.5 478.5h0M854.5 378.5h0M1092.5 131.5h0M983.5 254.5h0M876.5 348.5h0M756.5 471.5h0M1050.5 182.5h0M734.5 494.5h0M772.5 453.5h0M1146.5 88.5h0M1056.5 174.5h0M1094.5 139.5h0M931.5 301.5h0M803.5 425.5h0M955.5 281.5h0M910.5 319.5h0M801.5 432.5h0M802.5 425.5h0M840.5 386.5h0M1125.5 103.5h0M1144.5 88.5h0M1026.5 201.5h0M1034.5 194.5h0M1038.5 198.5h0M948.5 283.5h0M1098.5 134.5h0M1099.5 129.5h0M1028.5 200.5h0M1121.5 110.5h0M1141.5 90.5h0M942.5 286.5h0M1048.5 181.5h0M990.5 246.5h0M781.5 450.5h0M864.5 366.5h0M761.5 467.5h0M1102.5 127.5h0M742.5 492.5h0M957.5 272.5h0M807.5 428.5h0M794.5 433.5h0M802.5 423.5h0M1098.5 139.5h0M939.5 292.5h0M875.5 360.5h0M1149.5 83.5h0M859.5 373.5h0M887.5 342.5h0M1022.5 210.5h0M783.5 445.5h0M1048.5 176.5h0M1101.5 131.5h0M931.5 298.5h0M915.5 315.5h0M793.5 437.5h0M909.5 317.5h0M1051.5 181.5h0M905.5 327.5h0M991.5 246.5h0M751.5 480.5h0M824.5 406.5h0M818.5 410.5h0M1141.5 89.5h0M752.5 475.5h0M823.5 408.5h0M746.5 483.5h0M999.5 230.5h0M1005.5 226.5h0M877.5 355.5h0M748.5 482.5h0M914.5 313.5h0M804.5 428.5h0M911.5 320.5h0M888.5 343.5h0M825.5 404.5h0M1083.5 144.5h0M1021.5 210.5h0M929.5 300.5h0M899.5 328.5h0M778.5 450.5h0M984.5 249.5h0M943.5 290.5h0M1110.5 122.5h0M1136.5 92.5h0M1070.5 160.5h0M1094.5 137.5h0M939.5 287.5h0M888.5 344.5h0M932.5 299.5h0M954.5 272.5h0M1073.5 162.5h0M796.5 437.5h0M983.5 243.5h0M1110.5 120.5h0M826.5 402.5h0M853.5 379.5h0M1083.5 143.5h0M1004.5 228.5h0M1135.5 97.5h0M1000.5 234.5h0M1128.5 96.5h0M1077.5 151.5h0M812.5 420.5h0M822.5 408.5h0M1092.5 141.5h0M872.5 359.5h0M1019.5 209.5h0M914.5 316.5h0M924.5 305.5h0M737.5 492.5h0M1075.5 152.5h0M863.5 369.5h0M873.5 357.5h0M763.5 462.5h0M993.5 240.5h0M1057.5 172.5h0M946.5 280.5h0M932.5 303.5h0M1054.5 176.5h0M773.5 456.5h0M958.5 272.5h0M1045.5 186.5h0M885.5 339.5h0M1097.5 135.5h0M923.5 305.5h0M781.5 447.5h0M1139.5 91.5h0M1046.5 180.5h0M766.5 463.5h0M1069.5 165.5h0M796.5 430.5h0M785.5 442.5h0M848.5 381.5h0M935.5 300.5h0M911.5 321.5h0M747.5 488.5h0M981.5 250.5h0M1042.5 196.5h0M1140.5 88.5h0M964.5 268.5h0M1121.5 106.5h0M1129.5 100.5h0M821.5 407.5h0M761.5 470.5h0M804.5 429.5h0M1043.5 187.5h0M842.5 384.5h0M780.5 449.5h0M1125.5 105.5h0M1017.5 212.5h0M1132.5 102.5h0M870.5 363.5h0M790.5 437.5h0M1125.5 97.5h0M801.5 426.5h0M1067.5 167.5h0M821.5 406.5h0M1092.5 142.5h0M757.5 474.5h0M892.5 341.5h0M900.5 332.5h0M1106.5 128.5h0M893.5 341.5h0M910.5 322.5h0M1031.5 200.5h0M999.5 236.5h0M1105.5 131.5h0M1019.5 210.5h0M947.5 286.5h0M1108.5 123.5h0M871.5 366.5h0M886.5 344.5h0M879.5 349.5h0M937.5 291.5h0M747.5 484.5h0M921.5 306.5h0M865.5 367.5h0M834.5 394.5h0M836.5 397.5h0M1065.5 171.5h0M1141.5 83.5h0M905.5 321.5h0M1023.5 199.5h0M860.5 377.5h0M1077.5 152.5h0M822.5 407.5h0M847.5 382.5h0M855.5 376.5h0M787.5 441.5h0M913.5 318.5h0M785.5 440.5h0M956.5 281.5h0M936.5 300.5h0M943.5 288.5h0M1029.5 201.5h0M761.5 473.5h0M938.5 301.5h0M754.5 475.5h0M1139.5 94.5h0M1008.5 222.5h0M803.5 427.5h0M1116.5 107.5h0M806.5 418.5h0M881.5 351.5h0M753.5 476.5h0M887.5 344.5h0M1037.5 194.5h0M1056.5 175.5h0M911.5 319.5h0M1067.5 165.5h0M805.5 422.5h0M1108.5 127.5h0M1036.5 192.5h0M932.5 301.5h0M760.5 468.5h0M1034.5 200.5h0M884.5 351.5h0M1055.5 178.5h0M1100.5 129.5h0M806.5 428.5h0M1070.5 162.5h0M893.5 334.5h0M892.5 345.5h0M1138.5 95.5h0M1017.5 217.5h0M825.5 403.5h0M733.5 499.5h0M779.5 446.5h0M856.5 371.5h0M762.5 467.5h0M761.5 474.5h0M1127.5 106.5h0M796.5 435.5h0M1135.5 98.5h0M955.5 269.5h0M1021.5 209.5h0M853.5 378.5h0M1010.5 219.5h0M801.5 423.5h0M1110.5 123.5h0M1036.5 199.5h0M925.5 304.5h0M923.5 313.5h0M1042.5 185.5h0M899.5 334.5h0M913.5 319.5h0M969.5 265.5h0M966.5 260.5h0M925.5 310.5h0M984.5 247.5h0M795.5 431.5h0M1040.5 189.5h0M801.5 428.5h0M1069.5 162.5h0M971.5 257.5h0M1122.5 106.5h0M907.5 324.5h0M1007.5 224.5h0M764.5 467.5h0M800.5 424.5h0M783.5 446.5h0M940.5 291.5h0M838.5 388.5h0M803.5 428.5h0M1071.5 165.5h0M834.5 395.5h0M766.5 461.5h0M821.5 409.5h0M1030.5 201.5h0M990.5 241.5h0M1128.5 101.5h0M1087.5 143.5h0M860.5 367.5h0M1091.5 133.5h0M838.5 394.5h0M1088.5 144.5h0M793.5 435.5h0M1119.5 116.5h0M968.5 262.5h0M923.5 311.5h0M901.5 333.5h0M890.5 339.5h0M798.5 427.5h0M996.5 237.5h0M881.5 350.5h0M1099.5 135.5h0M784.5 440.5h0M928.5 303.5h0M977.5 255.5h0M1036.5 196.5h0M1006.5 225.5h0M910.5 321.5h0M1037.5 186.5h0M1028.5 201.5h0M892.5 336.5h0M911.5 314.5h0M880.5 350.5h0M1056.5 173.5h0M792.5 433.5h0M1072.5 154.5h0M978.5 254.5h0M887.5 335.5h0M1131.5 95.5h0M1136.5 95.5h0M775.5 458.5h0M937.5 297.5h0M1116.5 114.5h0M737.5 497.5h0M858.5 377.5h0M924.5 310.5h0M849.5 386.5h0M971.5 261.5h0M1084.5 146.5h0M833.5 396.5h0M1048.5 183.5h0M938.5 290.5h0M1135.5 96.5h0M1090.5 148.5h0M742.5 490.5h0M899.5 331.5h0M839.5 395.5h0M936.5 299.5h0M1147.5 80.5h0M974.5 254.5h0M762.5 471.5h0M1044.5 187.5h0M817.5 413.5h0M926.5 303.5h0M998.5 229.5h0M1113.5 122.5h0M875.5 352.5h0M748.5 486.5h0M759.5 472.5h0M910.5 320.5h0M851.5 380.5h0M1042.5 187.5h0M866.5 364.5h0M845.5 381.5h0M1023.5 202.5h0M1139.5 86.5h0M788.5 439.5h0M1079.5 152.5h0M848.5 387.5h0M1110.5 118.5h0M971.5 258.5h0M983.5 246.5h0M735.5 493.5h0M969.5 269.5h0M1095.5 133.5h0M1146.5 83.5h0M891.5 338.5h0M803.5 432.5h0M905.5 323.5h0M921.5 314.5h0M928.5 300.5h0M961.5 263.5h0M758.5 474.5h0M739.5 493.5h0M1052.5 174.5h0M996.5 230.5h0M897.5 333.5h0M1005.5 222.5h0M1030.5 196.5h0M854.5 372.5h0M896.5 340.5h0M836.5 396.5h0M790.5 435.5h0M979.5 251.5h0M1040.5 191.5h0M986.5 244.5h0M839.5 390.5h0M1000.5 237.5h0M904.5 324.5h0M919.5 309.5h0M738.5 492.5h0M1057.5 171.5h0M1106.5 123.5h0M854.5 374.5h0M884.5 343.5h0M898.5 329.5h0M887.5 348.5h0M1043.5 184.5h0M997.5 233.5h0M1017.5 216.5h0M916.5 317.5h0M841.5 394.5h0M1092.5 128.5h0M735.5 492.5h0M1032.5 198.5h0M821.5 408.5h0M970.5 269.5h0M1142.5 81.5h0M858.5 373.5h0M989.5 241.5h0M905.5 325.5h0M916.5 318.5h0M1046.5 184.5h0M960.5 273.5h0M848.5 384.5h0M1041.5 193.5h0M966.5 258.5h0M861.5 366.5h0M981.5 245.5h0M1042.5 186.5h0M760.5 469.5h0M802.5 432.5h0M880.5 348.5h0M837.5 392.5h0M969.5 261.5h0M753.5 479.5h0M1115.5 114.5h0M1039.5 193.5h0M908.5 325.5h0M796.5 433.5h0M759.5 465.5h0M1041.5 185.5h0M969.5 264.5h0M906.5 318.5h0M864.5 365.5h0M756.5 470.5h0M1049.5 183.5h0M844.5 380.5h0M830.5 398.5h0M969.5 258.5h0M778.5 453.5h0M1096.5 135.5h0M805.5 425.5h0M823.5 410.5h0M1041.5 190.5h0M924.5 311.5h0M1122.5 110.5h0M1105.5 126.5h0M966.5 263.5h0M801.5 425.5h0M861.5 365.5h0M1009.5 218.5h0M857.5 374.5h0M946.5 285.5h0M784.5 442.5h0M966.5 268.5h0M992.5 237.5h0M852.5 373.5h0M781.5 445.5h0M982.5 251.5h0M962.5 269.5h0M1047.5 181.5h0M734.5 499.5h0M796.5 432.5h0M989.5 242.5h0M972.5 262.5h0M1025.5 207.5h0M1105.5 124.5h0M1053.5 174.5h0M987.5 248.5h0M1147.5 76.5h0M873.5 354.5h0M833.5 391.5h0M845.5 383.5h0M994.5 239.5h0M903.5 326.5h0M876.5 353.5h0M783.5 450.5h0M1078.5 157.5h0M1080.5 151.5h0M838.5 390.5h0M770.5 457.5h0M976.5 254.5h0M896.5 331.5h0M863.5 363.5h0M949.5 282.5h0M767.5 459.5h0M885.5 353.5h0M1109.5 124.5h0M793.5 436.5h0M1046.5 187.5h0M920.5 306.5h0M968.5 259.5h0M1108.5 124.5h0M914.5 318.5h0M1146.5 90.5h0M851.5 382.5h0M826.5 406.5h0M989.5 245.5h0M979.5 253.5h0M950.5 284.5h0M861.5 368.5h0M913.5 316.5h0M744.5 482.5h0M760.5 473.5h0M749.5 485.5h0M1082.5 147.5h0M991.5 242.5h0M863.5 367.5h0M972.5 256.5h0M774.5 455.5h0M815.5 417.5h0M870.5 359.5h0M924.5 308.5h0M882.5 346.5h0M1086.5 148.5h0M960.5 271.5h0M765.5 466.5h0M842.5 385.5h0M944.5 287.5h0M1049.5 179.5h0M995.5 234.5h0M1147.5 87.5h0M867.5 362.5h0M991.5 240.5h0M1132.5 101.5h0M800.5 433.5h0M829.5 399.5h0M901.5 329.5h0M785.5 449.5h0M931.5 294.5h0M1137.5 100.5h0M981.5 252.5h0M1005.5 229.5h0M978.5 252.5h0M1002.5 227.5h0M841.5 387.5h0M955.5 279.5h0M786.5 440.5h0M952.5 276.5h0M1088.5 140.5h0M1054.5 178.5h0M1122.5 105.5h0M1040.5 185.5h0M823.5 405.5h0M1119.5 113.5h0M885.5 346.5h0M756.5 475.5h0M927.5 307.5h0M1040.5 190.5h0M942.5 291.5h0M995.5 231.5h0M839.5 394.5h0M870.5 364.5h0M819.5 410.5h0M922.5 303.5h0M906.5 323.5h0M768.5 462.5h0M841.5 391.5h0M1145.5 84.5h0M762.5 466.5h0M856.5 372.5h0M891.5 337.5h0M1079.5 149.5h0M1119.5 109.5h0M1033.5 196.5h0M1107.5 123.5h0M1074.5 155.5h0M755.5 473.5h0M976.5 258.5h0M1129.5 96.5h0M814.5 414.5h0M985.5 248.5h0M1040.5 196.5h0M788.5 441.5h0M920.5 316.5h0M921.5 311.5h0M740.5 490.5h0M1122.5 108.5h0M973.5 258.5h0M1027.5 209.5h0M1009.5 224.5h0M1131.5 98.5h0M963.5 268.5h0M880.5 353.5h0M1046.5 190.5h0M809.5 422.5h0M980.5 251.5h0M1040.5 195.5h0M970.5 264.5h0M1083.5 148.5h0M793.5 434.5h0M1072.5 159.5h0M1125.5 109.5h0M1086.5 141.5h0M891.5 334.5h0M797.5 433.5h0M981.5 244.5h0M841.5 385.5h0M1025.5 205.5h0M864.5 364.5h0M895.5 335.5h0M1112.5 118.5h0M899.5 329.5h0M755.5 468.5h0M1133.5 101.5h0M802.5 429.5h0M854.5 377.5h0M1051.5 179.5h0M733.5 495.5h0M1048.5 184.5h0M938.5 293.5h0M1011.5 214.5h0M873.5 360.5h0M859.5 366.5h0M1130.5 99.5h0M999.5 229.5h0M878.5 352.5h0M775.5 456.5h0M1039.5 190.5h0M840.5 389.5h0M840.5 385.5h0M952.5 283.5h0M1053.5 178.5h0M1141.5 91.5h0M1132.5 99.5h0M970.5 261.5h0M872.5 353.5h0M795.5 435.5h0M995.5 236.5h0M797.5 435.5h0M1103.5 123.5h0M794.5 434.5h0M1011.5 227.5h0M755.5 471.5h0M1019.5 208.5h0M815.5 414.5h0M1006.5 230.5h0M1082.5 144.5h0M744.5 486.5h0M877.5 352.5h0M787.5 439.5h0M878.5 355.5h0M1137.5 94.5h0M885.5 341.5h0M1020.5 208.5h0M846.5 384.5h0M836.5 389.5h0M989.5 240.5h0M978.5 245.5h0M899.5 337.5h0M809.5 416.5h0M1079.5 151.5h0M965.5 264.5h0M980.5 248.5h0M1036.5 198.5h0M1129.5 99.5h0M1062.5 172.5h0M1064.5 168.5h0M1044.5 183.5h0M818.5 407.5h0M1004.5 229.5h0M953.5 272.5h0M1104.5 128.5h0M955.5 270.5h0M1043.5 185.5h0M1138.5 85.5h0M1058.5 175.5h0M1009.5 232.5h0M765.5 465.5h0M852.5 378.5h0M998.5 233.5h0M1074.5 158.5h0M888.5 342.5h0M754.5 476.5h0M1020.5 213.5h0M915.5 319.5h0M973.5 256.5h0M1025.5 204.5h0M899.5 333.5h0M957.5 275.5h0M858.5 375.5h0M1037.5 189.5h0M846.5 386.5h0M1050.5 179.5h0M988.5 245.5h0M930.5 300.5h0M1036.5 193.5h0M760.5 474.5h0M1031.5 197.5h0M958.5 276.5h0M829.5 398.5h0M1066.5 160.5h0M815.5 415.5h0M943.5 291.5h0M1001.5 229.5h0M770.5 460.5h0M969.5 262.5h0M781.5 448.5h0M1112.5 123.5h0M826.5 403.5h0M1123.5 103.5h0M918.5 312.5h0M738.5 495.5h0M892.5 337.5h0M980.5 244.5h0M958.5 275.5h0M1134.5 99.5h0M772.5 455.5h0M914.5 317.5h0M743.5 487.5h0M919.5 311.5h0M750.5 478.5h0M1120.5 114.5h0M932.5 297.5h0M883.5 348.5h0M1130.5 102.5h0M909.5 323.5h0M1091.5 140.5h0M950.5 276.5h0M799.5 426.5h0M790.5 436.5h0M983.5 249.5h0M1031.5 199.5h0M1007.5 230.5h0M791.5 437.5h0M741.5 489.5h0M1003.5 226.5h0M891.5 341.5h0M962.5 273.5h0M786.5 443.5h0M792.5 435.5h0M802.5 430.5h0M819.5 415.5h0M1073.5 157.5h0M1070.5 155.5h0M942.5 289.5h0M973.5 260.5h0M882.5 348.5h0M929.5 304.5h0M901.5 330.5h0M959.5 268.5h0M1104.5 129.5h0M991.5 237.5h0M975.5 255.5h0M995.5 233.5h0M740.5 492.5h0M905.5 324.5h0M1139.5 84.5h0M1041.5 188.5h0M1112.5 122.5h0M965.5 259.5h0M1095.5 137.5h0M927.5 304.5h0M1110.5 115.5h0M1146.5 84.5h0M1010.5 224.5h0M933.5 298.5h0M1029.5 203.5h0M1129.5 106.5h0M926.5 304.5h0M753.5 474.5h0M975.5 253.5h0M859.5 374.5h0M1052.5 183.5h0M983.5 242.5h0M940.5 290.5h0M1148.5 80.5h0M1096.5 141.5h0M770.5 456.5h0M1113.5 114.5h0M1052.5 177.5h0M779.5 450.5h0M1044.5 185.5h0M858.5 372.5h0M964.5 267.5h0M797.5 428.5h0M886.5 340.5h0M938.5 298.5h0M812.5 422.5h0M1142.5 94.5h0M741.5 492.5h0M857.5 376.5h0M836.5 392.5h0M758.5 477.5h0M901.5 332.5h0M833.5 398.5h0M871.5 357.5h0M778.5 449.5h0M1093.5 137.5h0M1060.5 169.5h0M739.5 489.5h0M746.5 481.5h0M1010.5 221.5h0M846.5 387.5h0M881.5 356.5h0M935.5 299.5h0M1126.5 104.5h0M783.5 447.5h0M882.5 353.5h0M1050.5 181.5h0M978.5 256.5h0M885.5 347.5h0M945.5 286.5h0M748.5 481.5h0M878.5 354.5h0M1022.5 207.5h0M740.5 488.5h0M936.5 296.5h0M805.5 427.5h0M858.5 374.5h0M823.5 406.5h0M780.5 448.5h0M1051.5 187.5h0M976.5 247.5h0M1055.5 180.5h0M1082.5 150.5h0M857.5 369.5h0M1045.5 187.5h0M995.5 235.5h0M1094.5 132.5h0M832.5 401.5h0M1006.5 221.5h0M1086.5 146.5h0M1112.5 116.5h0M844.5 386.5h0M868.5 364.5h0M1000.5 236.5h0M1114.5 118.5h0M760.5 472.5h0M928.5 305.5h0M1070.5 163.5h0M939.5 295.5h0M1030.5 199.5h0M994.5 242.5h0M739.5 488.5h0M1103.5 125.5h0M835.5 400.5h0M911.5 316.5h0M1084.5 147.5h0M879.5 352.5h0M985.5 249.5h0M879.5 354.5h0M849.5 379.5h0M950.5 287.5h0M807.5 420.5h0M898.5 332.5h0M784.5 444.5h0M1137.5 90.5h0M1076.5 156.5h0M1132.5 92.5h0M907.5 322.5h0M841.5 386.5h0M1107.5 121.5h0M912.5 320.5h0M935.5 291.5h0M1062.5 167.5h0M983.5 251.5h0M872.5 356.5h0M927.5 306.5h0M848.5 382.5h0M891.5 336.5h0M1109.5 112.5h0M985.5 243.5h0M839.5 391.5h0M964.5 266.5h0M885.5 349.5h0M850.5 374.5h0M973.5 257.5h0M858.5 370.5h0M999.5 231.5h0M1091.5 144.5h0M1040.5 187.5h0M1101.5 132.5h0M1100.5 133.5h0M1046.5 188.5h0M935.5 289.5h0M756.5 472.5h0M893.5 337.5h0M782.5 445.5h0M782.5 446.5h0M857.5 375.5h0M1139.5 93.5h0M792.5 434.5h0M992.5 243.5h0M1084.5 145.5h0M778.5 452.5h0M895.5 334.5h0M938.5 295.5h0M932.5 295.5h0M1065.5 164.5h0M816.5 417.5h0M1135.5 102.5h0M1003.5 233.5h0M743.5 484.5h0M1132.5 105.5h0M1092.5 139.5h0M908.5 321.5h0M1140.5 91.5h0M902.5 333.5h0M887.5 345.5h0M1042.5 188.5h0M1053.5 176.5h0M1074.5 156.5h0M1054.5 182.5h0M794.5 436.5h0M755.5 475.5h0M858.5 366.5h0M871.5 354.5h0M894.5 338.5h0M970.5 263.5h0M847.5 385.5h0M1139.5 92.5h0M890.5 338.5h0M823.5 402.5h0M919.5 304.5h0M961.5 270.5h0M811.5 419.5h0M919.5 316.5h0M1124.5 100.5h0M788.5 437.5h0M1066.5 166.5h0M834.5 396.5h0M870.5 354.5h0M925.5 306.5h0M1119.5 111.5h0M739.5 492.5h0M764.5 463.5h0M943.5 289.5h0M1048.5 182.5h0M792.5 438.5h0M825.5 401.5h0M1083.5 147.5h0M1046.5 183.5h0M970.5 259.5h0M815.5 416.5h0M948.5 276.5h0M1107.5 127.5h0M763.5 468.5h0M1124.5 106.5h0M1058.5 176.5h0M764.5 466.5h0M907.5 317.5h0M1101.5 129.5h0M1005.5 224.5h0M1120.5 109.5h0M928.5 304.5h0M1145.5 82.5h0M765.5 462.5h0M830.5 397.5h0M1069.5 161.5h0M1116.5 111.5h0M734.5 495.5h0M928.5 307.5h0M790.5 433.5h0M799.5 430.5h0M822.5 410.5h0M817.5 411.5h0M908.5 318.5h0M968.5 260.5h0M1077.5 155.5h0M745.5 484.5h0M759.5 473.5h0M876.5 354.5h0M908.5 320.5h0M774.5 453.5h0M1053.5 179.5h0M1144.5 84.5h0M761.5 465.5h0M921.5 316.5h0M1067.5 162.5h0M1033.5 199.5h0M853.5 375.5h0M754.5 472.5h0M750.5 481.5h0M873.5 352.5h0M1115.5 113.5h0M1131.5 101.5h0M969.5 263.5h0M985.5 251.5h0M1105.5 128.5h0M831.5 397.5h0M961.5 268.5h0M959.5 270.5h0M997.5 240.5h0M775.5 451.5h0M850.5 383.5h0M840.5 393.5h0M936.5 303.5h0M978.5 253.5h0M912.5 319.5h0M904.5 325.5h0M956.5 280.5h0M784.5 449.5h0M941.5 282.5h0M1129.5 101.5h0M1104.5 130.5h0M738.5 490.5h0M1142.5 86.5h0M965.5 266.5h0M1073.5 158.5h0M1103.5 134.5h0M936.5 286.5h0M842.5 386.5h0M892.5 339.5h0M985.5 246.5h0M1117.5 121.5h0M1002.5 225.5h0M956.5 273.5h0M736.5 494.5h0M1089.5 142.5h0M1090.5 136.5h0M1096.5 137.5h0M744.5 487.5h0M932.5 296.5h0M921.5 307.5h0M946.5 282.5h0M1031.5 205.5h0M1092.5 132.5h0M938.5 294.5h0M1056.5 176.5h0M735.5 498.5h0M895.5 337.5h0M805.5 426.5h0M1080.5 150.5h0M799.5 428.5h0M798.5 429.5h0M1090.5 146.5h0M979.5 250.5h0M854.5 380.5h0M971.5 266.5h0M1053.5 173.5h0M917.5 317.5h0M827.5 402.5h0M859.5 369.5h0M920.5 313.5h0M1096.5 133.5h0M1111.5 117.5h0M777.5 451.5h0M763.5 464.5h0M852.5 377.5h0M734.5 496.5h0M951.5 283.5h0M1131.5 99.5h0M1051.5 176.5h0M741.5 488.5h0M1093.5 143.5h0M1091.5 139.5h0M1038.5 197.5h0M963.5 265.5h0M892.5 335.5h0M870.5 365.5h0M1061.5 168.5h0M983.5 247.5h0M831.5 401.5h0M783.5 443.5h0M765.5 461.5h0M884.5 354.5h0M1118.5 115.5h0M868.5 365.5h0M746.5 480.5h0M1085.5 146.5h0M955.5 273.5h0M774.5 456.5h0M949.5 281.5h0M835.5 393.5h0M744.5 484.5h0M934.5 294.5h0M752.5 477.5h0M769.5 456.5h0M981.5 246.5h0M994.5 229.5h0M1075.5 160.5h0M808.5 420.5h0M958.5 273.5h0M1118.5 116.5h0M760.5 470.5h0M1061.5 166.5h0M800.5 429.5h0M751.5 477.5h0M956.5 278.5h0M828.5 403.5h0M863.5 371.5h0M828.5 405.5h0M949.5 285.5h0M807.5 421.5h0M825.5 407.5h0M1013.5 214.5h0M919.5 312.5h0M779.5 453.5h0M884.5 341.5h0M823.5 407.5h0M1054.5 173.5h0M1106.5 124.5h0M1019.5 213.5h0M940.5 288.5h0M1138.5 88.5h0M767.5 462.5h0M936.5 292.5h0M1042.5 190.5h0M773.5 453.5h0M1125.5 101.5h0M1069.5 169.5h0M1024.5 205.5h0M771.5 457.5h0M1077.5 150.5h0M874.5 354.5h0M960.5 266.5h0M992.5 239.5h0M877.5 351.5h0M839.5 388.5h0M904.5 330.5h0M1037.5 188.5h0M937.5 293.5h0M1072.5 155.5h0M813.5 416.5h0M1103.5 126.5h0M898.5 333.5h0M742.5 487.5h0M930.5 304.5h0M955.5 271.5h0M1122.5 112.5h0M748.5 483.5h0M975.5 256.5h0M1134.5 96.5h0M877.5 356.5h0M1113.5 111.5h0M1040.5 186.5h0M904.5 331.5h0M997.5 228.5h0M1012.5 218.5h0M793.5 438.5h0M809.5 419.5h0M947.5 284.5h0M799.5 429.5h0M1078.5 155.5h0M1001.5 237.5h0M766.5 459.5h0M1066.5 170.5h0M1091.5 148.5h0M773.5 458.5h0M796.5 434.5h0M1002.5 223.5h0M1133.5 92.5h0M1036.5 195.5h0M759.5 470.5h0M875.5 351.5h0M926.5 309.5h0M978.5 262.5h0M1095.5 135.5h0M827.5 404.5h0M790.5 438.5h0M1099.5 130.5h0M1070.5 167.5h0M1051.5 177.5h0M1131.5 102.5h0M966.5 267.5h0M1115.5 118.5h0M1000.5 231.5h0M975.5 249.5h0M817.5 412.5h0M1097.5 132.5h0M893.5 338.5h0M815.5 412.5h0M860.5 371.5h0M971.5 262.5h0M994.5 236.5h0M872.5 361.5h0M909.5 320.5h0M966.5 264.5h0M1067.5 170.5h0M1101.5 124.5h0M930.5 302.5h0M1047.5 184.5h0M800.5 425.5h0M975.5 258.5h0M986.5 243.5h0M779.5 451.5h0M911.5 315.5h0M1079.5 156.5h0M794.5 432.5h0M1023.5 214.5h0M1065.5 166.5h0M833.5 401.5h0M1114.5 114.5h0M842.5 390.5h0M862.5 368.5h0M944.5 291.5h0M1102.5 130.5h0M1131.5 93.5h0M1055.5 168.5h0M1134.5 94.5h0M936.5 294.5h0M868.5 362.5h0M946.5 279.5h0M874.5 357.5h0M776.5 453.5h0M1100.5 131.5h0M785.5 443.5h0M951.5 276.5h0M1075.5 156.5h0M1011.5 221.5h0M1079.5 154.5h0M976.5 252.5h0M1042.5 191.5h0M974.5 257.5h0M1060.5 171.5h0M867.5 365.5h0M781.5 453.5h0M772.5 456.5h0M1025.5 209.5h0M845.5 385.5h0M1112.5 114.5h0M943.5 292.5h0M1066.5 167.5h0M1029.5 205.5h0M742.5 486.5h0M1130.5 97.5h0M829.5 405.5h0M1079.5 157.5h0M970.5 257.5h0M1140.5 87.5h0M918.5 314.5h0M1088.5 146.5h0M984.5 243.5h0M1058.5 169.5h0M1008.5 218.5h0M1038.5 194.5h0M1146.5 87.5h0M1047.5 190.5h0M916.5 307.5h0M842.5 391.5h0M798.5 432.5h0M798.5 433.5h0M1057.5 177.5h0M919.5 308.5h0M1132.5 98.5h0M1025.5 208.5h0M753.5 472.5h0M1078.5 153.5h0M979.5 245.5h0M1064.5 171.5h0M948.5 289.5h0M963.5 271.5h0M790.5 441.5h0M1059.5 177.5h0M869.5 366.5h0M819.5 414.5h0M858.5 371.5h0M1071.5 162.5h0M1058.5 173.5h0M1133.5 91.5h0M868.5 363.5h0M1103.5 129.5h0M749.5 477.5h0M885.5 343.5h0M1028.5 199.5h0M769.5 457.5h0M959.5 275.5h0M1094.5 136.5h0M982.5 247.5h0M1005.5 230.5h0M906.5 325.5h0M973.5 268.5h0M886.5 347.5h0M1142.5 88.5h0M734.5 498.5h0M797.5 429.5h0M907.5 325.5h0M995.5 242.5h0M1122.5 109.5h0M771.5 463.5h0M1143.5 86.5h0M1081.5 154.5h0M775.5 455.5h0M1034.5 192.5h0M775.5 452.5h0M1145.5 85.5h0M794.5 431.5h0M932.5 302.5h0M922.5 307.5h0M791.5 435.5h0M795.5 434.5h0M916.5 315.5h0M870.5 357.5h0M1037.5 196.5h0M990.5 236.5h0M926.5 308.5h0M1014.5 221.5h0M1038.5 190.5h0M1004.5 225.5h0M871.5 360.5h0M786.5 442.5h0M996.5 233.5h0M1143.5 93.5h0M1117.5 117.5h0M875.5 357.5h0M1002.5 231.5h0M745.5 491.5h0M968.5 263.5h0M895.5 339.5h0M934.5 301.5h0M1010.5 225.5h0M896.5 326.5h0M883.5 345.5h0M936.5 295.5h0M1137.5 97.5h0M782.5 449.5h0M764.5 468.5h0M1103.5 119.5h0M1060.5 168.5h0M869.5 359.5h0M900.5 329.5h0M877.5 357.5h0M950.5 278.5h0M767.5 458.5h0M951.5 281.5h0M972.5 258.5h0M903.5 323.5h0M772.5 454.5h0M1138.5 89.5h0M801.5 431.5h0M843.5 387.5h0M951.5 284.5h0M1059.5 165.5h0M955.5 275.5h0M1133.5 98.5h0M1013.5 215.5h0M1128.5 107.5h0M1119.5 104.5h0M1106.5 119.5h0M981.5 247.5h0M956.5 274.5h0M1107.5 124.5h0M1148.5 83.5h0M907.5 320.5h0M1146.5 81.5h0M1023.5 211.5h0M967.5 262.5h0M950.5 283.5h0M1041.5 186.5h0M1116.5 116.5h0M1095.5 134.5h0M896.5 333.5h0M1009.5 220.5h0M1014.5 218.5h0M1003.5 228.5h0M1041.5 189.5h0M991.5 245.5h0M1081.5 146.5h0M1026.5 209.5h0M833.5 397.5h0M1008.5 224.5h0M1080.5 146.5h0M966.5 273.5h0M915.5 322.5h0M802.5 427.5h0M775.5 453.5h0M861.5 369.5h0M1029.5 199.5h0M912.5 318.5h0M1073.5 156.5h0M1105.5 123.5h0M978.5 251.5h0M1055.5 175.5h0M898.5 331.5h0M1052.5 173.5h0M965.5 271.5h0M995.5 240.5h0M1134.5 98.5h0M1113.5 117.5h0M814.5 417.5h0M805.5 423.5h0M928.5 306.5h0M876.5 350.5h0M754.5 473.5h0M1133.5 99.5h0M905.5 329.5h0M908.5 328.5h0M810.5 419.5h0M918.5 311.5h0M816.5 413.5h0M876.5 356.5h0M1132.5 100.5h0M982.5 252.5h0M1079.5 150.5h0M966.5 266.5h0M1012.5 216.5h0M902.5 326.5h0M966.5 265.5h0M1144.5 85.5h0M1066.5 161.5h0M842.5 387.5h0M867.5 359.5h0M1134.5 91.5h0M893.5 333.5h0M749.5 483.5h0M785.5 436.5h0M793.5 432.5h0M905.5 328.5h0M1099.5 125.5h0M763.5 469.5h0M761.5 468.5h0M1046.5 179.5h0M946.5 284.5h0M804.5 426.5h0M810.5 417.5h0M840.5 394.5h0M1091.5 143.5h0M977.5 249.5h0M988.5 244.5h0M1144.5 83.5h0M868.5 359.5h0M938.5 297.5h0M1073.5 153.5h0M995.5 243.5h0M851.5 374.5h0M812.5 414.5h0M883.5 349.5h0M866.5 362.5h0M783.5 444.5h0M866.5 360.5h0M835.5 396.5h0M801.5 427.5h0M945.5 282.5h0M1051.5 174.5h0M811.5 413.5h0M902.5 330.5h0M937.5 296.5h0M771.5 456.5h0M1146.5 75.5h0M1053.5 181.5h0M1143.5 87.5h0M863.5 370.5h0M1148.5 86.5h0M932.5 298.5h0M875.5 359.5h0M804.5 425.5h0M1005.5 225.5h0M1081.5 148.5h0M1003.5 223.5h0M1097.5 129.5h0M852.5 380.5h0M850.5 384.5h0M1068.5 169.5h0M1013.5 211.5h0M809.5 418.5h0M956.5 276.5h0M1060.5 172.5h0M899.5 323.5h0M737.5 491.5h0M1065.5 160.5h0M798.5 428.5h0M900.5 327.5h0M1140.5 94.5h0M849.5 385.5h0M999.5 228.5h0M1018.5 214.5h0M1114.5 115.5h0M975.5 252.5h0M761.5 466.5h0M745.5 488.5h0M897.5 331.5h0M1015.5 213.5h0M1146.5 82.5h0M1015.5 222.5h0M1030.5 205.5h0M922.5 310.5h0M824.5 402.5h0M997.5 232.5h0M880.5 354.5h0M740.5 487.5h0M1120.5 112.5h0M1044.5 182.5h0M846.5 383.5h0M894.5 335.5h0M837.5 394.5h0M890.5 340.5h0M841.5 390.5h0M792.5 432.5h0M805.5 421.5h0M826.5 401.5h0M738.5 488.5h0M749.5 481.5h0M1035.5 195.5h0M940.5 289.5h0M933.5 299.5h0M1075.5 157.5h0M1133.5 102.5h0M1085.5 148.5h0M816.5 411.5h0M990.5 234.5h0M1083.5 146.5h0M1148.5 78.5h0M1075.5 162.5h0M937.5 295.5h0M915.5 313.5h0M1092.5 140.5h0M784.5 445.5h0M783.5 441.5h0M1103.5 128.5h0M786.5 447.5h0M864.5 369.5h0M835.5 392.5h0M1079.5 148.5h0M1145.5 88.5h0M999.5 234.5h0M916.5 314.5h0M764.5 453.5h0M766.5 450.5h0M772.5 446.5h0M753.5 465.5h0M753.5 468.5h0M746.5 472.5h0M748.5 470.5h0M785.5 452.5h0M774.5 461.5h0M757.5 478.5h0M792.5 445.5h0M833.5 377.5h0M820.5 394.5h0M827.5 395.5h0M835.5 388.5h0M820.5 401.5h0M812.5 406.5h0M801.5 414.5h0M793.5 422.5h0M787.5 426.5h0M784.5 434.5h0M788.5 431.5h0M773.5 440.5h0M775.5 442.5h0M846.5 406.5h0M854.5 411.5h0M822.5 415.5h0M832.5 404.5h0M834.5 402.5h0M847.5 391.5h0M850.5 392.5h0M853.5 385.5h0M857.5 384.5h0M860.5 380.5h0M861.5 377.5h0M841.5 374.5h0M847.5 374.5h0M879.5 329.5h0M890.5 328.5h0M887.5 333.5h0M886.5 336.5h0M880.5 340.5h0M871.5 346.5h0M873.5 345.5h0M868.5 354.5h0M864.5 356.5h0M895.5 320.5h0M902.5 313.5h0M906.5 314.5h0M939.5 310.5h0M944.5 310.5h0M937.5 317.5h0M939.5 306.5h0M926.5 320.5h0M927.5 322.5h0M924.5 329.5h0M921.5 330.5h0M919.5 326.5h0M910.5 328.5h0M910.5 331.5h0M913.5 338.5h0M917.5 339.5h0M905.5 337.5h0M904.5 338.5h0M907.5 343.5h0M912.5 349.5h0M904.5 359.5h0M896.5 342.5h0M893.5 344.5h0M893.5 348.5h0M891.5 353.5h0M888.5 363.5h0M882.5 355.5h0M879.5 359.5h0M877.5 363.5h0M872.5 369.5h0M875.5 372.5h0M920.5 318.5h0M946.5 266.5h0M928.5 281.5h0M920.5 285.5h0M913.5 288.5h0M914.5 289.5h0M908.5 300.5h0M932.5 289.5h0M920.5 298.5h0M918.5 304.5h0M967.5 253.5h0M972.5 251.5h0M963.5 259.5h0M961.5 262.5h0M1012.5 246.5h0M1001.5 250.5h0M993.5 259.5h0M1006.5 241.5h0M1010.5 237.5h0M1015.5 236.5h0M1002.5 241.5h0M998.5 238.5h0M998.5 245.5h0M991.5 247.5h0M993.5 249.5h0M994.5 252.5h0M995.5 254.5h0M985.5 255.5h0M983.5 255.5h0M977.5 261.5h0M975.5 263.5h0M977.5 266.5h0M979.5 267.5h0M978.5 279.5h0M973.5 277.5h0M969.5 279.5h0M963.5 274.5h0M962.5 276.5h0M962.5 279.5h0M958.5 279.5h0M958.5 284.5h0M962.5 282.5h0M963.5 285.5h0M959.5 288.5h0M957.5 292.5h0M958.5 295.5h0M953.5 290.5h0M947.5 297.5h0M950.5 301.5h0M941.5 301.5h0M945.5 292.5h0M1044.5 167.5h0M1052.5 167.5h0M1055.5 169.5h0M1053.5 172.5h0M1050.5 175.5h0M1040.5 178.5h0M1036.5 185.5h0M1030.5 192.5h0M1032.5 192.5h0M1026.5 198.5h0M1021.5 202.5h0M1011.5 205.5h0M1014.5 206.5h0M1012.5 210.5h0M1010.5 211.5h0M988.5 230.5h0M991.5 232.5h0M1073.5 174.5h0M1067.5 176.5h0M1063.5 177.5h0M1065.5 182.5h0M1059.5 182.5h0M1058.5 184.5h0M1052.5 186.5h0M1056.5 192.5h0M1043.5 199.5h0M1042.5 197.5h0M1037.5 204.5h0M1035.5 213.5h0M1032.5 217.5h0M1026.5 221.5h0M1022.5 215.5h0M1020.5 221.5h0M1016.5 228.5h0M1013.5 230.5h0M1011.5 231.5h0M1018.5 232.5h0M1022.5 232.5h0M1005.5 232.5h0M1003.5 235.5h0M1001.5 236.5h0M1070.5 172.5h0M1113.5 99.5h0M1120.5 100.5h0M1122.5 98.5h0M1123.5 101.5h0M1140.5 96.5h0M1139.5 101.5h0M1136.5 102.5h0M1115.5 108.5h0M1108.5 112.5h0M1105.5 119.5h0M1084.5 123.5h0M1093.5 124.5h0M1079.5 133.5h0M1088.5 134.5h0M1086.5 137.5h0M1081.5 143.5h0M1066.5 157.5h0M1042.5 161.5h0M1051.5 162.5h0M1054.5 166.5h0M1053.5 170.5h0M1128.5 109.5h0M1128.5 115.5h0M1126.5 119.5h0M1124.5 121.5h0M1115.5 121.5h0M1118.5 129.5h0M1120.5 129.5h0M1110.5 128.5h0M1112.5 133.5h0M1110.5 136.5h0M1095.5 142.5h0M1098.5 148.5h0M1089.5 147.5h0M1091.5 151.5h0M1091.5 155.5h0M1076.5 161.5h0M1073.5 163.5h0M1069.5 167.5h0M1130.5 90.5h0M1133.5 90.5h0M1123.5 114.5h0M1131.5 106.5h0" fill="none" stroke="#000" stroke-width="3.74" stroke-linecap="round"/>
<path d="M817.5 410.5h0M832.5 396.5h0M750.5 482.5h0M811.5 421.5h0M784.5 443.5h0M822.5 404.5h0M741.5 486.5h0M818.5 413.5h0M828.5 399.5h0M765.5 463.5h0M745.5 485.5h0M774.5 454.5h0M836.5 393.5h0M816.5 410.5h0M840.5 387.5h0M753.5 476.5h0M779.5 448.5h0M844.5 382.5h0M746.5 487.5h0M771.5 453.5h0M818.5 414.5h0M766.5 457.5h0M832.5 400.5h0M843.5 381.5h0M741.5 491.5h0M758.5 471.5h0M795.5 435.5h0M819.5 407.5h0M769.5 459.5h0M771.5 457.5h0M754.5 475.5h0M833.5 395.5h0M838.5 394.5h0M750.5 475.5h0M787.5 437.5h0M756.5 470.5h0M767.5 464.5h0M776.5 450.5h0M807.5 420.5h0M744.5 484.5h0M842.5 387.5h0M824.5 405.5h0M737.5 491.5h0M734.5 492.5h0M811.5 419.5h0M801.5 427.5h0M790.5 442.5h0M809.5 421.5h0M820.5 409.5h0M817.5 408.5h0M843.5 386.5h0M780.5 449.5h0M781.5 451.5h0M757.5 473.5h0M734.5 498.5h0M837.5 394.5h0M769.5 462.5h0M780.5 451.5h0M816.5 413.5h0M765.5 460.5h0M768.5 463.5h0M815.5 412.5h0M816.5 409.5h0M781.5 442.5h0M800.5 429.5h0M736.5 494.5h0M829.5 401.5h0M737.5 492.5h0M750.5 477.5h0M758.5 469.5h0M841.5 382.5h0M783.5 447.5h0M801.5 428.5h0M764.5 464.5h0M792.5 441.5h0M735.5 493.5h0M845.5 383.5h0M794.5 436.5h0M756.5 473.5h0M796.5 432.5h0M810.5 422.5h0M761.5 469.5h0M783.5 445.5h0M742.5 493.5h0M765.5 464.5h0M788.5 436.5h0M839.5 391.5h0M849.5 381.5h0M771.5 461.5h0M768.5 460.5h0M732.5 499.5h0M803.5 422.5h0M836.5 392.5h0M791.5 438.5h0M807.5 419.5h0M785.5 438.5h0M752.5 475.5h0M849.5 378.5h0M847.5 383.5h0M763.5 465.5h0M809.5 417.5h0M829.5 398.5h0M763.5 467.5h0M762.5 467.5h0M759.5 474.5h0M746.5 485.5h0M793.5 433.5h0M835.5 391.5h0M772.5 456.5h0M738.5 494.5h0M743.5 491.5h0M798.5 428.5h0M760.5 466.5h0M748.5 479.5h0M759.5 469.5h0M745.5 484.5h0M846.5 382.5h0M739.5 491.5h0M821.5 404.5h0M754.5 474.5h0M803.5 425.5h0M772.5 455.5h0M778.5 448.5h0M775.5 448.5h0M821.5 409.5h0M819.5 410.5h0M792.5 436.5h0M738.5 489.5h0M769.5 455.5h0M799.5 430.5h0M812.5 422.5h0M819.5 406.5h0M827.5 402.5h0M739.5 492.5h0M777.5 448.5h0M807.5 422.5h0M828.5 406.5h0M849.5 374.5h0M810.5 421.5h0M848.5 382.5h0M836.5 391.5h0M810.5 420.5h0M792.5 438.5h0M810.5 417.5h0M785.5 443.5h0M836.5 395.5h0M797.5 430.5h0M745.5 489.5h0M776.5 456.5h0M841.5 385.5h0M845.5 389.5h0M808.5 419.5h0M752.5 479.5h0M791.5 433.5h0M835.5 392.5h0M801.5 429.5h0M829.5 400.5h0M825.5 405.5h0M738.5 492.5h0M736.5 496.5h0M809.5 420.5h0M833.5 394.5h0M761.5 466.5h0M840.5 390.5h0M828.5 403.5h0M837.5 397.5h0M828.5 404.5h0M755.5 474.5h0M806.5 423.5h0M772.5 451.5h0M776.5 452.5h0M821.5 403.5h0M830.5 401.5h0M780.5 446.5h0M845.5 379.5h0M748.5 481.5h0M751.5 479.5h0M742.5 486.5h0M830.5 399.5h0M749.5 475.5h0M816.5 412.5h0M814.5 415.5h0M777.5 452.5h0M771.5 459.5h0M822.5 406.5h0M760.5 471.5h0M782.5 449.5h0M767.5 458.5h0M833.5 391.5h0M788.5 440.5h0M818.5 410.5h0M739.5 488.5h0M764.5 463.5h0M831.5 399.5h0M783.5 440.5h0M755.5 470.5h0M787.5 436.5h0M814.5 412.5h0M786.5 437.5h0M836.5 396.5h0M747.5 480.5h0M819.5 416.5h0M787.5 440.5h0M740.5 491.5h0M817.5 412.5h0M772.5 453.5h0M824.5 407.5h0M844.5 385.5h0M735.5 496.5h0M801.5 426.5h0M805.5 430.5h0M789.5 439.5h0M831.5 397.5h0M814.5 417.5h0M782.5 446.5h0M822.5 413.5h0M749.5 481.5h0M755.5 471.5h0M823.5 409.5h0M837.5 389.5h0M762.5 464.5h0M815.5 417.5h0M770.5 459.5h0M826.5 399.5h0M734.5 497.5h0M810.5 414.5h0M839.5 385.5h0M850.5 377.5h0M819.5 409.5h0M799.5 423.5h0M806.5 426.5h0M840.5 386.5h0M822.5 407.5h0M844.5 384.5h0M804.5 422.5h0M737.5 494.5h0M799.5 432.5h0M774.5 457.5h0M739.5 496.5h0M757.5 474.5h0M805.5 425.5h0M736.5 493.5h0M790.5 433.5h0M805.5 422.5h0M762.5 466.5h0M755.5 472.5h0M761.5 468.5h0M839.5 389.5h0M753.5 480.5h0M788.5 442.5h0M751.5 477.5h0M813.5 416.5h0M842.5 391.5h0M752.5 474.5h0M796.5 431.5h0M740.5 488.5h0M826.5 403.5h0M827.5 403.5h0M807.5 423.5h0M795.5 428.5h0M754.5 476.5h0M776.5 451.5h0M802.5 424.5h0M790.5 435.5h0M850.5 381.5h0M768.5 461.5h0M753.5 477.5h0M759.5 473.5h0M842.5 385.5h0M789.5 443.5h0M758.5 472.5h0M782.5 445.5h0M773.5 450.5h0M821.5 413.5h0M748.5 484.5h0M793.5 429.5h0M813.5 418.5h0M772.5 452.5h0M735.5 494.5h0M745.5 486.5h0M752.5 477.5h0M803.5 424.5h0M784.5 444.5h0M780.5 443.5h0M846.5 379.5h0M815.5 413.5h0M836.5 390.5h0M798.5 430.5h0M781.5 445.5h0M804.5 424.5h0M847.5 382.5h0M786.5 443.5h0M787.5 435.5h0M795.5 432.5h0M777.5 451.5h0M773.5 453.5h0M827.5 404.5h0M818.5 412.5h0M824.5 409.5h0M822.5 409.5h0M849.5 384.5h0M823.5 404.5h0M781.5 448.5h0M792.5 435.5h0M770.5 456.5h0M735.5 497.5h0M806.5 425.5h0M795.5 431.5h0M804.5 420.5h0M787.5 442.5h0M790.5 437.5h0M761.5 470.5h0M795.5 433.5h0M766.5 467.5h0M802.5 425.5h0M773.5 454.5h0M735.5 500.5h0M765.5 462.5h0M844.5 388.5h0M792.5 429.5h0M738.5 495.5h0M799.5 433.5h0M780.5 452.5h0M803.5 427.5h0M834.5 399.5h0M753.5 475.5h0M747.5 479.5h0M806.5 422.5h0M797.5 431.5h0M825.5 404.5h0M835.5 396.5h0M839.5 396.5h0M815.5 414.5h0M749.5 482.5h0M734.5 495.5h0M822.5 410.5h0M801.5 431.5h0M762.5 471.5h0M740.5 487.5h0M787.5 441.5h0M823.5 410.5h0M767.5 461.5h0M737.5 495.5h0M780.5 447.5h0M839.5 390.5h0M781.5 447.5h0M787.5 445.5h0M815.5 410.5h0M764.5 459.5h0M844.5 387.5h0M763.5 462.5h0M733.5 497.5h0M767.5 462.5h0M789.5 437.5h0M763.5 461.5h0M809.5 424.5h0M791.5 437.5h0M800.5 432.5h0M808.5 423.5h0M829.5 403.5h0M798.5 429.5h0M741.5 490.5h0M739.5 490.5h0M786.5 444.5h0M819.5 411.5h0M755.5 473.5h0M833.5 398.5h0M759.5 470.5h0M815.5 415.5h0M793.5 434.5h0M775.5 447.5h0M789.5 440.5h0M776.5 454.5h0M759.5 468.5h0M797.5 427.5h0M762.5 470.5h0M750.5 480.5h0M806.5 427.5h0M779.5 445.5h0M744.5 483.5h0M749.5 483.5h0M765.5 461.5h0M786.5 439.5h0M814.5 419.5h0M812.5 418.5h0M744.5 488.5h0M806.5 428.5h0M779.5 449.5h0M824.5 410.5h0M827.5 401.5h0M759.5 467.5h0M739.5 494.5h0M784.5 447.5h0M798.5 427.5h0M835.5 393.5h0M798.5 431.5h0M794.5 435.5h0M780.5 448.5h0M802.5 426.5h0M828.5 401.5h0M742.5 489.5h0M806.5 418.5h0M766.5 461.5h0M795.5 430.5h0M808.5 418.5h0M777.5 453.5h0M755.5 476.5h0M746.5 488.5h0M775.5 451.5h0M848.5 375.5h0M805.5 421.5h0M775.5 454.5h0M813.5 415.5h0M788.5 435.5h0M741.5 489.5h0M756.5 474.5h0M733.5 494.5h0M783.5 446.5h0M840.5 392.5h0M757.5 469.5h0M744.5 485.5h0M736.5 497.5h0M747.5 481.5h0M757.5 472.5h0M833.5 396.5h0M830.5 400.5h0M789.5 438.5h0M799.5 434.5h0M788.5 441.5h0M776.5 449.5h0M842.5 383.5h0M838.5 392.5h0M778.5 449.5h0M759.5 465.5h0M791.5 441.5h0M841.5 390.5h0M831.5 401.5h0M807.5 424.5h0M829.5 394.5h0M793.5 435.5h0M834.5 395.5h0M775.5 450.5h0M783.5 443.5h0M805.5 426.5h0M802.5 423.5h0M820.5 408.5h0M772.5 458.5h0M780.5 445.5h0M823.5 407.5h0M844.5 381.5h0M736.5 498.5h0M801.5 421.5h0M747.5 487.5h0M769.5 456.5h0M827.5 400.5h0M849.5 380.5h0M847.5 381.5h0M744.5 486.5h0M945.5 286.5h0M937.5 294.5h0M862.5 367.5h0M930.5 300.5h0M902.5 330.5h0M879.5 352.5h0M933.5 298.5h0M920.5 307.5h0M920.5 309.5h0M936.5 292.5h0M945.5 288.5h0M922.5 310.5h0M872.5 361.5h0M910.5 318.5h0M935.5 293.5h0M873.5 355.5h0M889.5 343.5h0M886.5 346.5h0M851.5 382.5h0M950.5 280.5h0M893.5 340.5h0M878.5 347.5h0M896.5 332.5h0M912.5 317.5h0M893.5 337.5h0M940.5 288.5h0M934.5 295.5h0M947.5 285.5h0M879.5 353.5h0M877.5 354.5h0M923.5 305.5h0M894.5 339.5h0M884.5 348.5h0M920.5 308.5h0M879.5 354.5h0M917.5 312.5h0M908.5 323.5h0M893.5 338.5h0M884.5 347.5h0M873.5 360.5h0M853.5 382.5h0M854.5 376.5h0M936.5 294.5h0M925.5 307.5h0M852.5 378.5h0M867.5 360.5h0M866.5 364.5h0M931.5 303.5h0M862.5 369.5h0M860.5 373.5h0M891.5 339.5h0M918.5 316.5h0M912.5 319.5h0M936.5 293.5h0M882.5 349.5h0M925.5 308.5h0M947.5 283.5h0M921.5 308.5h0M933.5 293.5h0M936.5 296.5h0M854.5 373.5h0M929.5 300.5h0M874.5 353.5h0M867.5 361.5h0M862.5 370.5h0M900.5 329.5h0M908.5 322.5h0M948.5 281.5h0M944.5 286.5h0M921.5 311.5h0M913.5 315.5h0M942.5 287.5h0M880.5 351.5h0M877.5 351.5h0M949.5 280.5h0M946.5 286.5h0M923.5 306.5h0M881.5 350.5h0M869.5 362.5h0M850.5 378.5h0M904.5 326.5h0M938.5 294.5h0M894.5 340.5h0M946.5 285.5h0M852.5 379.5h0M874.5 355.5h0M943.5 286.5h0M918.5 311.5h0M866.5 361.5h0M855.5 371.5h0M873.5 358.5h0M899.5 333.5h0M874.5 360.5h0M910.5 325.5h0M900.5 326.5h0M949.5 281.5h0M896.5 335.5h0M884.5 345.5h0M871.5 359.5h0M931.5 300.5h0M906.5 325.5h0M858.5 372.5h0M863.5 364.5h0M900.5 331.5h0M855.5 369.5h0M910.5 323.5h0M867.5 363.5h0M869.5 359.5h0M943.5 290.5h0M938.5 292.5h0M914.5 315.5h0M916.5 316.5h0M940.5 290.5h0M913.5 316.5h0M906.5 326.5h0M864.5 363.5h0M864.5 364.5h0M858.5 375.5h0M874.5 356.5h0M916.5 317.5h0M918.5 309.5h0M883.5 344.5h0M894.5 335.5h0M855.5 374.5h0M864.5 360.5h0M905.5 326.5h0M858.5 370.5h0M922.5 307.5h0M895.5 335.5h0M862.5 366.5h0M912.5 316.5h0M878.5 349.5h0M906.5 327.5h0M919.5 310.5h0M909.5 321.5h0M885.5 345.5h0M868.5 358.5h0M876.5 357.5h0M927.5 303.5h0M927.5 300.5h0M855.5 368.5h0M886.5 342.5h0M879.5 348.5h0M878.5 348.5h0M894.5 334.5h0M895.5 336.5h0M853.5 379.5h0M918.5 312.5h0M862.5 368.5h0M937.5 295.5h0M856.5 379.5h0M943.5 289.5h0M858.5 373.5h0M864.5 365.5h0M930.5 298.5h0M923.5 309.5h0M947.5 284.5h0M938.5 291.5h0M871.5 360.5h0M867.5 362.5h0M890.5 339.5h0M890.5 336.5h0M856.5 371.5h0M937.5 296.5h0M873.5 357.5h0M850.5 384.5h0M927.5 306.5h0M900.5 333.5h0M948.5 280.5h0M894.5 337.5h0M879.5 350.5h0M904.5 328.5h0M917.5 310.5h0M851.5 377.5h0M856.5 376.5h0M941.5 285.5h0M917.5 311.5h0M948.5 278.5h0M886.5 345.5h0M877.5 352.5h0M905.5 327.5h0M871.5 354.5h0M932.5 298.5h0M887.5 347.5h0M908.5 318.5h0M922.5 309.5h0M876.5 354.5h0M926.5 307.5h0M906.5 322.5h0M941.5 288.5h0M935.5 295.5h0M875.5 358.5h0M863.5 366.5h0M871.5 361.5h0M941.5 291.5h0M935.5 297.5h0M861.5 373.5h0M935.5 294.5h0M946.5 282.5h0M882.5 348.5h0M876.5 356.5h0M869.5 360.5h0M937.5 293.5h0M867.5 366.5h0M902.5 333.5h0M861.5 368.5h0M913.5 320.5h0M883.5 351.5h0M863.5 370.5h0M915.5 314.5h0M930.5 301.5h0M873.5 356.5h0M911.5 316.5h0M851.5 381.5h0M877.5 357.5h0M879.5 351.5h0M902.5 329.5h0M921.5 309.5h0M895.5 334.5h0M887.5 343.5h0M863.5 361.5h0M875.5 351.5h0M909.5 318.5h0M894.5 336.5h0M864.5 368.5h0M852.5 382.5h0M885.5 341.5h0M929.5 304.5h0M895.5 337.5h0M905.5 324.5h0M890.5 341.5h0M887.5 340.5h0M858.5 371.5h0M928.5 300.5h0M899.5 332.5h0M940.5 291.5h0M861.5 367.5h0M908.5 324.5h0M889.5 340.5h0M887.5 348.5h0M861.5 372.5h0M896.5 334.5h0M886.5 343.5h0M898.5 331.5h0M910.5 320.5h0M924.5 307.5h0M853.5 376.5h0M948.5 282.5h0M947.5 282.5h0M919.5 311.5h0M942.5 286.5h0M865.5 366.5h0M889.5 339.5h0M897.5 334.5h0M874.5 354.5h0M926.5 303.5h0M877.5 350.5h0M890.5 340.5h0M926.5 306.5h0M925.5 302.5h0M892.5 337.5h0M866.5 360.5h0M941.5 287.5h0M916.5 312.5h0M933.5 299.5h0M865.5 359.5h0M880.5 350.5h0M931.5 299.5h0M893.5 335.5h0M855.5 375.5h0M923.5 307.5h0M876.5 358.5h0M897.5 335.5h0M914.5 314.5h0M913.5 318.5h0M857.5 376.5h0M882.5 347.5h0M914.5 317.5h0M930.5 302.5h0M857.5 373.5h0M900.5 330.5h0M912.5 321.5h0M922.5 308.5h0M889.5 338.5h0M860.5 372.5h0M851.5 376.5h0M1083.5 147.5h0M1106.5 123.5h0M1133.5 97.5h0M1024.5 206.5h0M952.5 275.5h0M1127.5 103.5h0M1039.5 190.5h0M1034.5 195.5h0M953.5 279.5h0M1112.5 118.5h0M1033.5 199.5h0M1067.5 163.5h0M1115.5 116.5h0M1097.5 133.5h0M1137.5 94.5h0M998.5 230.5h0M1132.5 99.5h0M968.5 261.5h0M1087.5 141.5h0M1100.5 131.5h0M1056.5 175.5h0M1000.5 231.5h0M1050.5 181.5h0M1023.5 207.5h0M1110.5 120.5h0M982.5 248.5h0M1001.5 229.5h0M1088.5 145.5h0M1026.5 203.5h0M1115.5 113.5h0M1063.5 166.5h0M982.5 247.5h0M1002.5 229.5h0M1085.5 147.5h0M954.5 278.5h0M1020.5 210.5h0M999.5 233.5h0M1140.5 93.5h0M969.5 262.5h0M1096.5 136.5h0M975.5 254.5h0M995.5 236.5h0M1127.5 104.5h0M983.5 245.5h0M1065.5 165.5h0M1052.5 179.5h0M1067.5 162.5h0M1073.5 158.5h0M985.5 247.5h0M1085.5 145.5h0M1139.5 92.5h0M1115.5 115.5h0M952.5 278.5h0M961.5 267.5h0M1054.5 176.5h0M1095.5 136.5h0M969.5 260.5h0M1114.5 115.5h0M1125.5 105.5h0M1064.5 164.5h0M996.5 235.5h0M992.5 237.5h0M1007.5 222.5h0M984.5 246.5h0M1139.5 90.5h0M999.5 230.5h0M1076.5 156.5h0M995.5 234.5h0M953.5 274.5h0M1004.5 226.5h0M1066.5 163.5h0M1100.5 130.5h0M1046.5 186.5h0M975.5 255.5h0M972.5 259.5h0M1064.5 165.5h0M1001.5 228.5h0M1055.5 174.5h0M990.5 241.5h0M1045.5 184.5h0M1031.5 197.5h0M959.5 272.5h0M987.5 242.5h0M1096.5 134.5h0M1033.5 198.5h0M1026.5 207.5h0M1004.5 228.5h0M1093.5 135.5h0M954.5 276.5h0M986.5 244.5h0M1118.5 110.5h0M1079.5 150.5h0M1060.5 170.5h0M953.5 277.5h0M1090.5 139.5h0M1026.5 204.5h0M957.5 272.5h0M960.5 271.5h0M1064.5 166.5h0M1044.5 187.5h0M1054.5 175.5h0M1074.5 156.5h0M1011.5 219.5h0M1069.5 162.5h0M1012.5 220.5h0M974.5 254.5h0M970.5 262.5h0M1057.5 174.5h0M1081.5 150.5h0M988.5 244.5h0M1040.5 188.5h0M1095.5 135.5h0M1027.5 205.5h0M1078.5 153.5h0M1090.5 140.5h0M971.5 259.5h0M1144.5 85.5h0M1103.5 128.5h0M1122.5 106.5h0M977.5 253.5h0M1036.5 195.5h0M1001.5 231.5h0M973.5 260.5h0M1105.5 125.5h0M1135.5 95.5h0M973.5 257.5h0M1133.5 96.5h0M1079.5 152.5h0M990.5 238.5h0M1004.5 227.5h0M1113.5 116.5h0M1091.5 140.5h0M981.5 248.5h0M1072.5 158.5h0M1055.5 177.5h0M1032.5 197.5h0M1021.5 209.5h0M993.5 239.5h0M1058.5 171.5h0M1143.5 86.5h0M1063.5 167.5h0M1018.5 211.5h0M971.5 261.5h0M1125.5 106.5h0M967.5 264.5h0M1027.5 203.5h0M1043.5 184.5h0M963.5 269.5h0M1089.5 139.5h0M964.5 265.5h0M951.5 281.5h0M1029.5 202.5h0M1021.5 210.5h0M1133.5 98.5h0M952.5 277.5h0M1051.5 178.5h0M1062.5 169.5h0M1054.5 174.5h0M1138.5 92.5h0M1093.5 138.5h0M1079.5 149.5h0M961.5 269.5h0M980.5 249.5h0M1093.5 137.5h0M1126.5 106.5h0M1072.5 161.5h0M1135.5 96.5h0M1002.5 231.5h0M953.5 276.5h0M1041.5 190.5h0M1098.5 132.5h0M968.5 262.5h0M1110.5 121.5h0M1065.5 163.5h0M987.5 243.5h0M1140.5 89.5h0M986.5 243.5h0M1132.5 100.5h0M987.5 246.5h0M975.5 256.5h0M1131.5 98.5h0M1017.5 212.5h0M1076.5 155.5h0M957.5 276.5h0M1051.5 179.5h0M1107.5 123.5h0M996.5 236.5h0M1011.5 221.5h0M970.5 261.5h0M1141.5 87.5h0M1007.5 223.5h0M1038.5 192.5h0M1006.5 224.5h0M1009.5 221.5h0M1146.5 82.5h0M1005.5 223.5h0M1132.5 97.5h0M1116.5 115.5h0M991.5 239.5h0M1102.5 129.5h0M952.5 276.5h0M1113.5 117.5h0M1042.5 191.5h0M1091.5 139.5h0M1022.5 208.5h0M961.5 270.5h0M1033.5 196.5h0M1104.5 126.5h0M1031.5 199.5h0M1143.5 87.5h0M990.5 239.5h0M964.5 268.5h0M1074.5 157.5h0M978.5 251.5h0M1054.5 177.5h0M1124.5 106.5h0M1106.5 124.5h0M996.5 234.5h0M1032.5 198.5h0M1061.5 169.5h0M1024.5 205.5h0M1017.5 213.5h0M1091.5 138.5h0M1070.5 160.5h0M962.5 268.5h0M1011.5 218.5h0M1014.5 214.5h0M1098.5 134.5h0M1139.5 89.5h0M1041.5 186.5h0M1114.5 117.5h0M1134.5 97.5h0M1088.5 142.5h0M1140.5 90.5h0M1000.5 228.5h0M1138.5 95.5h0M1051.5 177.5h0M1009.5 224.5h0M956.5 271.5h0M1004.5 224.5h0M1116.5 114.5h0M998.5 232.5h0M977.5 254.5h0M967.5 262.5h0M1102.5 130.5h0M1002.5 227.5h0M1148.5 82.5h0M1032.5 199.5h0M1049.5 181.5h0M1030.5 199.5h0M1040.5 190.5h0M1089.5 141.5h0M999.5 231.5h0M1144.5 86.5h0M1015.5 216.5h0M979.5 250.5h0M1019.5 211.5h0M1056.5 173.5h0M1121.5 109.5h0M1042.5 187.5h0M1126.5 105.5h0M997.5 233.5h0M1023.5 206.5h0M1029.5 203.5h0M1083.5 146.5h0M1135.5 93.5h0M1120.5 109.5h0M967.5 263.5h0M1099.5 132.5h0M1124.5 105.5h0M965.5 264.5h0M1086.5 146.5h0M1005.5 227.5h0M957.5 274.5h0M1094.5 135.5h0M1071.5 159.5h0M1039.5 192.5h0M1068.5 162.5h0M1089.5 142.5h0M1020.5 212.5h0M989.5 242.5h0M1128.5 103.5h0M1003.5 228.5h0M969.5 259.5h0M1092.5 139.5h0M1126.5 107.5h0M1120.5 112.5h0M969.5 263.5h0M1131.5 101.5h0M1147.5 86.5h0M1021.5 207.5h0M1091.5 141.5h0M1101.5 130.5h0M966.5 264.5h0M1000.5 229.5h0M1107.5 121.5h0M1065.5 166.5h0M1136.5 94.5h0M1020.5 208.5h0M983.5 248.5h0M1066.5 162.5h0M1118.5 112.5h0M1121.5 108.5h0M1012.5 218.5h0M1112.5 119.5h0M1067.5 161.5h0M1082.5 147.5h0M1055.5 175.5h0M1073.5 157.5h0M995.5 232.5h0M960.5 268.5h0M1147.5 83.5h0M1029.5 201.5h0M1057.5 173.5h0M1015.5 214.5h0M1134.5 96.5h0M960.5 273.5h0M1144.5 88.5h0M1122.5 110.5h0M1060.5 171.5h0M1110.5 119.5h0M970.5 263.5h0M1096.5 135.5h0M1096.5 133.5h0M1081.5 151.5h0M1004.5 223.5h0M990.5 242.5h0M1071.5 160.5h0M958.5 271.5h0M955.5 277.5h0M979.5 253.5h0M1012.5 219.5h0M1028.5 204.5h0M1066.5 165.5h0M1145.5 86.5h0M1022.5 206.5h0M1059.5 172.5h0M1066.5 164.5h0M983.5 247.5h0M1046.5 185.5h0M1028.5 203.5h0M1053.5 178.5h0M1005.5 225.5h0M1137.5 92.5h0M986.5 245.5h0M1081.5 149.5h0M1038.5 189.5h0M1128.5 104.5h0M1024.5 203.5h0M1126.5 103.5h0M1021.5 208.5h0M1112.5 117.5h0M1048.5 184.5h0M1000.5 227.5h0M1103.5 127.5h0M1044.5 188.5h0M1004.5 225.5h0M1084.5 147.5h0M1092.5 140.5h0M1022.5 210.5h0M1052.5 181.5h0M1093.5 136.5h0M982.5 246.5h0M1013.5 218.5h0M741.5 479.5h0M744.5 477.5h0M739.5 482.5h0M759.5 458.5h0M762.5 456.5h0M757.5 461.5h0M748.5 473.5h0M752.5 468.5h0M775.5 449.5h0M901.5 345.5h0M905.5 345.5h0M915.5 331.5h0M885.5 364.5h0M865.5 374.5h0M930.5 314.5h0M932.5 316.5h0M934.5 311.5h0M909.5 309.5h0M859.5 361.5h0M888.5 351.5h0M968.5 272.5h0M931.5 307.5h0M949.5 289.5h0M954.5 285.5h0M939.5 298.5h0M977.5 247.5h0M968.5 256.5h0M937.5 286.5h0M946.5 276.5h0M981.5 257.5h0M1077.5 167.5h0M1048.5 209.5h0M1045.5 213.5h0M994.5 226.5h0M1027.5 215.5h0M1046.5 192.5h0M1053.5 190.5h0M1037.5 198.5h0M1032.5 206.5h0M1003.5 221.5h0M1039.5 200.5h0M1138.5 107.5h0M1100.5 119.5h0M1066.5 132.5h0M1091.5 130.5h0M1104.5 135.5h0M1101.5 137.5h0M1084.5 156.5h0M1071.5 154.5h0M1087.5 150.5h0M1120.5 116.5h0M1099.5 126.5h0M1109.5 119.5h0M1127.5 98.5h0M1120.5 105.5h0" fill="none" stroke="#ff8c00" stroke-width="6.53" stroke-linecap="round"/>
<path d="M-2170.38 3400.55L5703.62 -4473.45" fill="none" stroke="#808080" stroke-width="0.85" stroke-dasharray="2.569 1.111"/>
</g>
<path d="M712.5 519.5V86.5M1145.5 519.5V86.5M712.5 519.5H1145.5M712.5 86.5H1145.5" fill="none" stroke="#ccc" stroke-width="2.778" stroke-linecap="square"/>
<rect x="724" y="98" width="183" height="80" rx="4.89" ry="4.89" fill="#fff" stroke="#ccc" stroke-width="2.222" opacity="0.8"/>
<path d="M758.5 120.5h0" fill="none" stroke="#000" stroke-width="3.74" stroke-linecap="round"/>
<path d="M758.5 156.5h0" fill="none" stroke="#ff8c00" stroke-width="6.53" stroke-linecap="round"/>
<text x="802.84" y="127" font-size="24.444" textLength="93.8">training</text>
<text x="802.84" y="163" font-size="24.444" textLength="46.44">test</text>
<g font-size="16.667" text-anchor="middle">
<text transform="translate(743.5 554) scale(0.955 1)">−2.6</text>
<text transform="translate(822.24 554) scale(0.955 1)">−2.4</text>
<text transform="translate(900.98 554) scale(0.955 1)">−2.2</text>
<text transform="translate(979.72 554) scale(0.955 1)">−2.0</text>
<text transform="translate(1058.46 554) scale(0.955 1)">−1.8</text>
<text transform="translate(1137.2 554) scale(0.955 1)">−1.6</text>
</g>
<g font-size="16.667" text-anchor="end">
<text transform="translate(688.44 493) scale(0.955 1)">−2.6</text>
<text transform="translate(688.44 414) scale(0.955 1)">−2.4</text>
<text transform="translate(688.44 336) scale(0.955 1)">−2.2</text>
<text transform="translate(688.44 257) scale(0.955 1)">−2.0</text>
<text transform="translate(688.44 178) scale(0.955 1)">−1.8</text>
<text transform="translate(688.44 99) scale(0.955 1)">−1.6</text>
</g>
<text x="928.03" y="585.85" font-size="22.222" text-anchor="middle">DFT energy (eV/atom)</text>
<text transform="translate(631.24 303.23) rotate(-90)" font-size="22.222" text-anchor="middle">MLP energy (eV/atom)</text>
<text x="600.6" y="34.11" font-size="27.778" text-anchor="middle">Energy distribution (gtinv-725, Na-Ga)</text>
</svg>
</body>
</html>
